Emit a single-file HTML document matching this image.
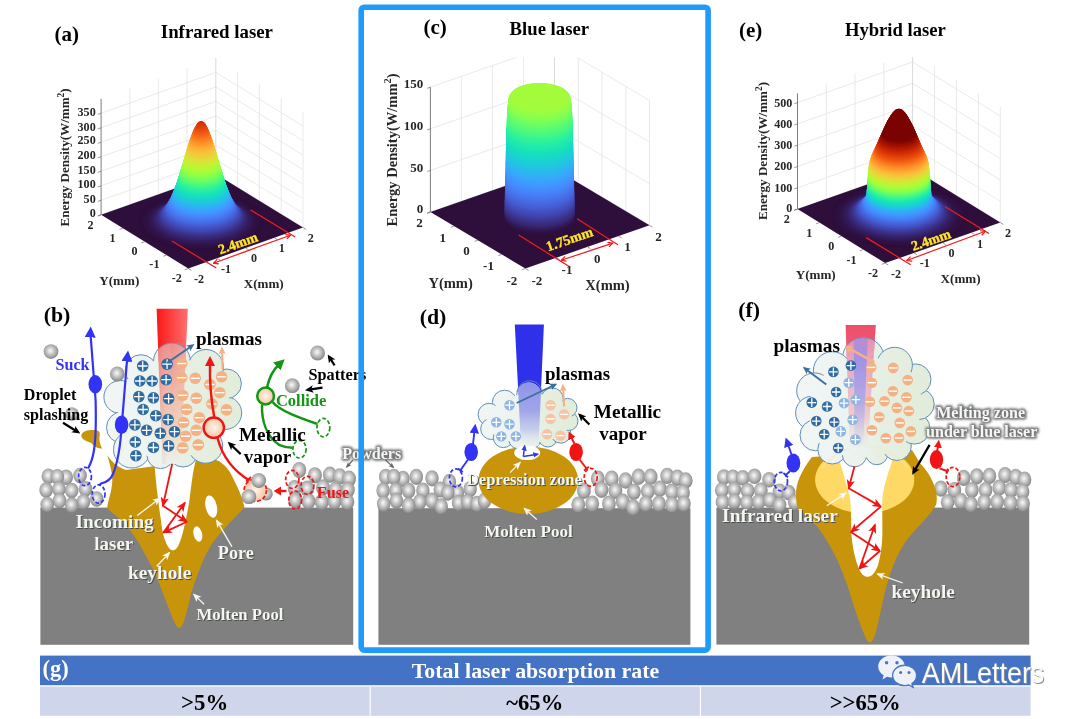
<!DOCTYPE html>
<html><head><meta charset="utf-8"><title>Laser absorption figure</title>
<style>html,body{margin:0;padding:0;background:#fff;}svg{display:block;font-family:"Liberation Serif",serif;will-change:transform;}</style>
</head><body>
<svg width="1080" height="719" viewBox="0 0 1080 719">
<defs>
<marker id="oar" viewBox="0 0 10 10" refX="9" refY="5" markerWidth="5" markerHeight="5" orient="auto-start-reverse"><path d="M1,1 L9,5 L1,9" fill="none" stroke="#ee1c1c" stroke-width="2"/></marker>
</defs>
<rect width="1080" height="719" fill="#fff"/>

<clipPath id="pacrop"><rect x="0" y="57.5" width="1080" height="300"/></clipPath><g clip-path="url(#pacrop)">
<line x1="101.1" y1="214.8" x2="215.8" y2="173.9" stroke="#e5e5e5" stroke-width="0.8"/>
<line x1="215.8" y1="173.9" x2="303" y2="227.6" stroke="#e5e5e5" stroke-width="0.8"/>
<line x1="101.1" y1="200.3" x2="215.8" y2="159.4" stroke="#e5e5e5" stroke-width="0.8"/>
<line x1="215.8" y1="159.4" x2="303" y2="213.1" stroke="#e5e5e5" stroke-width="0.8"/>
<line x1="101.1" y1="185.8" x2="215.8" y2="144.9" stroke="#e5e5e5" stroke-width="0.8"/>
<line x1="215.8" y1="144.9" x2="303" y2="198.6" stroke="#e5e5e5" stroke-width="0.8"/>
<line x1="101.1" y1="171.3" x2="215.8" y2="130.4" stroke="#e5e5e5" stroke-width="0.8"/>
<line x1="215.8" y1="130.4" x2="303" y2="184.1" stroke="#e5e5e5" stroke-width="0.8"/>
<line x1="101.1" y1="156.8" x2="215.8" y2="115.9" stroke="#e5e5e5" stroke-width="0.8"/>
<line x1="215.8" y1="115.9" x2="303" y2="169.6" stroke="#e5e5e5" stroke-width="0.8"/>
<line x1="101.1" y1="142.3" x2="215.8" y2="101.4" stroke="#e5e5e5" stroke-width="0.8"/>
<line x1="215.8" y1="101.4" x2="303" y2="155.1" stroke="#e5e5e5" stroke-width="0.8"/>
<line x1="101.1" y1="127.8" x2="215.8" y2="86.9" stroke="#e5e5e5" stroke-width="0.8"/>
<line x1="215.8" y1="86.9" x2="303" y2="140.6" stroke="#e5e5e5" stroke-width="0.8"/>
<line x1="101.1" y1="113.3" x2="215.8" y2="72.4" stroke="#e5e5e5" stroke-width="0.8"/>
<line x1="215.8" y1="72.4" x2="303" y2="126.1" stroke="#e5e5e5" stroke-width="0.8"/>
<line x1="129.8" y1="204.6" x2="129.8" y2="88.6" stroke="#e5e5e5" stroke-width="0.8"/>
<line x1="237.6" y1="187.3" x2="237.6" y2="71.3" stroke="#e5e5e5" stroke-width="0.8"/>
<line x1="158.4" y1="194.4" x2="158.4" y2="78.4" stroke="#e5e5e5" stroke-width="0.8"/>
<line x1="259.4" y1="200.7" x2="259.4" y2="84.7" stroke="#e5e5e5" stroke-width="0.8"/>
<line x1="187.1" y1="184.1" x2="187.1" y2="68.1" stroke="#e5e5e5" stroke-width="0.8"/>
<line x1="281.2" y1="214.2" x2="281.2" y2="98.2" stroke="#e5e5e5" stroke-width="0.8"/>
<line x1="303" y1="227.6" x2="303" y2="111.6" stroke="#e5e5e5" stroke-width="0.8"/>
<line x1="215.8" y1="173.9" x2="215.8" y2="57.9" stroke="#cfcfcf" stroke-width="0.8"/>
</g>
<line x1="101.1" y1="214.8" x2="101.1" y2="98.8" stroke="#6e6e6e" stroke-width="0.9"/>
<line x1="101.1" y1="214.8" x2="97.9" y2="215.9" stroke="#6e6e6e" stroke-width="0.7"/>
<line x1="101.1" y1="200.3" x2="97.9" y2="201.4" stroke="#6e6e6e" stroke-width="0.7"/>
<line x1="101.1" y1="185.8" x2="97.9" y2="186.9" stroke="#6e6e6e" stroke-width="0.7"/>
<line x1="101.1" y1="171.3" x2="97.9" y2="172.4" stroke="#6e6e6e" stroke-width="0.7"/>
<line x1="101.1" y1="156.8" x2="97.9" y2="157.9" stroke="#6e6e6e" stroke-width="0.7"/>
<line x1="101.1" y1="142.3" x2="97.9" y2="143.4" stroke="#6e6e6e" stroke-width="0.7"/>
<line x1="101.1" y1="127.8" x2="97.9" y2="128.9" stroke="#6e6e6e" stroke-width="0.7"/>
<line x1="101.1" y1="113.3" x2="97.9" y2="114.4" stroke="#6e6e6e" stroke-width="0.7"/>
<polygon points="101.1,214.8 188.3,268.5 303,227.6 215.8,173.9" fill="#2e0e3b"/>
<line x1="188.3" y1="268.5" x2="184.9" y2="269.7" stroke="#6e6e6e" stroke-width="0.7"/>
<line x1="188.3" y1="268.5" x2="191.4" y2="270.4" stroke="#6e6e6e" stroke-width="0.7"/>
<line x1="166.5" y1="255.1" x2="163.1" y2="256.3" stroke="#6e6e6e" stroke-width="0.7"/>
<line x1="217" y1="258.3" x2="220" y2="260.2" stroke="#6e6e6e" stroke-width="0.7"/>
<line x1="144.7" y1="241.7" x2="141.3" y2="242.9" stroke="#6e6e6e" stroke-width="0.7"/>
<line x1="245.7" y1="248.1" x2="248.7" y2="249.9" stroke="#6e6e6e" stroke-width="0.7"/>
<line x1="122.9" y1="228.2" x2="119.5" y2="229.4" stroke="#6e6e6e" stroke-width="0.7"/>
<line x1="274.3" y1="237.8" x2="277.4" y2="239.7" stroke="#6e6e6e" stroke-width="0.7"/>
<line x1="101.1" y1="214.8" x2="97.7" y2="216" stroke="#6e6e6e" stroke-width="0.7"/>
<line x1="303" y1="227.6" x2="306.1" y2="229.5" stroke="#6e6e6e" stroke-width="0.7"/>
<clipPath id="paclip"><polygon points="101.1,214.8 188.3,268.5 303,227.6 303,53.6 215.8,-0.1 101.1,40.8"/></clipPath>
<g clip-path="url(#paclip)"><g transform="translate(201.1,221.7) rotate(179.97)">
<ellipse cx="-0.0" cy="0.2" rx="62.8" ry="29.4" fill="#2e0e3b"/>
<ellipse cx="-0.0" cy="0.2" rx="62.0" ry="29.0" fill="#2e0e3b"/>
<ellipse cx="-0.0" cy="0.2" rx="61.2" ry="28.7" fill="#2e0e3b"/>
<ellipse cx="-0.0" cy="0.3" rx="60.4" ry="28.3" fill="#2e0e3b"/>
<ellipse cx="-0.0" cy="0.3" rx="59.6" ry="27.9" fill="#2e0e3b"/>
<ellipse cx="-0.0" cy="0.4" rx="58.8" ry="27.5" fill="#2e0e3b"/>
<ellipse cx="-0.0" cy="0.5" rx="58.0" ry="27.2" fill="#2f1142"/>
<ellipse cx="-0.0" cy="0.5" rx="57.2" ry="26.8" fill="#2f1142"/>
<ellipse cx="-0.0" cy="0.6" rx="56.4" ry="26.4" fill="#2f1142"/>
<ellipse cx="-0.0" cy="0.7" rx="55.6" ry="26.0" fill="#2f1142"/>
<ellipse cx="-0.0" cy="0.8" rx="54.8" ry="25.7" fill="#2f1142"/>
<ellipse cx="-0.0" cy="0.9" rx="54.0" ry="25.3" fill="#31144a"/>
<ellipse cx="-0.0" cy="1.1" rx="53.2" ry="24.9" fill="#31144a"/>
<ellipse cx="-0.0" cy="1.2" rx="52.4" ry="24.5" fill="#31144a"/>
<ellipse cx="-0.0" cy="1.4" rx="51.6" ry="24.2" fill="#321751"/>
<ellipse cx="-0.0" cy="1.6" rx="50.8" ry="23.8" fill="#321751"/>
<ellipse cx="-0.0" cy="1.8" rx="50.0" ry="23.4" fill="#331a58"/>
<ellipse cx="-0.0" cy="2.0" rx="49.2" ry="23.1" fill="#331a58"/>
<ellipse cx="-0.0" cy="2.3" rx="48.5" ry="22.7" fill="#341d5f"/>
<ellipse cx="-0.0" cy="2.6" rx="47.7" ry="22.4" fill="#341d5f"/>
<ellipse cx="-0.0" cy="2.9" rx="47.0" ry="22.0" fill="#352166"/>
<ellipse cx="-0.0" cy="3.3" rx="46.2" ry="21.7" fill="#37246c"/>
<ellipse cx="-0.0" cy="3.6" rx="45.5" ry="21.3" fill="#382673"/>
<ellipse cx="-0.0" cy="4.0" rx="44.8" ry="21.0" fill="#382773"/>
<ellipse cx="-0.0" cy="4.4" rx="44.1" ry="20.7" fill="#392a79"/>
<ellipse cx="-0.0" cy="4.9" rx="43.4" ry="20.3" fill="#3a2d7f"/>
<ellipse cx="-0.0" cy="5.3" rx="42.8" ry="20.0" fill="#3b3085"/>
<ellipse cx="-0.0" cy="5.8" rx="42.1" ry="19.7" fill="#3c3591"/>
<ellipse cx="-0.0" cy="6.4" rx="41.5" ry="19.4" fill="#3d3897"/>
<ellipse cx="-0.0" cy="6.9" rx="40.9" ry="19.1" fill="#3e3b9c"/>
<ellipse cx="-0.0" cy="7.4" rx="40.3" ry="18.9" fill="#3f3ea2"/>
<ellipse cx="-0.0" cy="8.0" rx="39.7" ry="18.6" fill="#4044ac"/>
<ellipse cx="-0.0" cy="8.6" rx="39.1" ry="18.3" fill="#4147b1"/>
<ellipse cx="-0.0" cy="9.2" rx="38.6" ry="18.1" fill="#424ab5"/>
<ellipse cx="-0.0" cy="9.9" rx="38.0" ry="17.8" fill="#4350be"/>
<ellipse cx="-0.0" cy="10.5" rx="37.5" ry="17.6" fill="#4352c3"/>
<ellipse cx="-0.0" cy="11.1" rx="37.0" ry="17.3" fill="#4455c7"/>
<ellipse cx="-0.0" cy="11.8" rx="36.5" ry="17.1" fill="#455bcf"/>
<ellipse cx="-0.0" cy="12.4" rx="36.1" ry="16.9" fill="#455ed3"/>
<ellipse cx="-0.0" cy="13.1" rx="35.6" ry="16.7" fill="#4663da"/>
<ellipse cx="-0.0" cy="13.8" rx="35.2" ry="16.5" fill="#4669e0"/>
<ellipse cx="-0.0" cy="14.5" rx="34.7" ry="16.3" fill="#466be3"/>
<ellipse cx="-0.0" cy="15.2" rx="34.3" ry="16.1" fill="#4771e9"/>
<ellipse cx="-0.0" cy="15.9" rx="33.9" ry="15.9" fill="#4773eb"/>
<ellipse cx="-0.0" cy="16.6" rx="33.5" ry="15.7" fill="#4778f0"/>
<ellipse cx="-0.0" cy="17.3" rx="33.1" ry="15.5" fill="#477bf2"/>
<ellipse cx="-0.0" cy="18.1" rx="32.7" ry="15.3" fill="#4680f6"/>
<ellipse cx="-0.0" cy="18.8" rx="32.3" ry="15.1" fill="#4685fa"/>
<ellipse cx="-0.0" cy="19.5" rx="31.9" ry="15.0" fill="#4687fb"/>
<ellipse cx="-0.0" cy="20.3" rx="31.6" ry="14.8" fill="#458cfd"/>
<ellipse cx="-0.0" cy="21.0" rx="31.2" ry="14.6" fill="#4391fe"/>
<ellipse cx="-0.0" cy="21.7" rx="30.9" ry="14.5" fill="#4294ff"/>
<ellipse cx="-0.0" cy="22.5" rx="30.5" ry="14.3" fill="#4099ff"/>
<ellipse cx="-0.0" cy="23.2" rx="30.2" ry="14.1" fill="#3d9efe"/>
<ellipse cx="-0.0" cy="24.0" rx="29.9" ry="14.0" fill="#3ba0fd"/>
<ellipse cx="-0.0" cy="24.7" rx="29.5" ry="13.8" fill="#38a5fb"/>
<ellipse cx="-0.0" cy="25.5" rx="29.2" ry="13.7" fill="#35abf8"/>
<ellipse cx="-0.0" cy="26.2" rx="28.9" ry="13.5" fill="#33adf7"/>
<ellipse cx="-0.0" cy="27.0" rx="28.6" ry="13.4" fill="#2fb2f4"/>
<ellipse cx="-0.0" cy="27.8" rx="28.3" ry="13.3" fill="#2cb7f0"/>
<ellipse cx="-0.0" cy="28.6" rx="28.0" ry="13.1" fill="#28bceb"/>
<ellipse cx="-0.0" cy="29.3" rx="27.7" ry="13.0" fill="#27bee9"/>
<ellipse cx="-0.0" cy="30.1" rx="27.4" ry="12.8" fill="#23c3e4"/>
<ellipse cx="-0.0" cy="30.8" rx="27.1" ry="12.7" fill="#20c7df"/>
<ellipse cx="-0.0" cy="31.6" rx="26.8" ry="12.6" fill="#1ecbda"/>
<ellipse cx="-0.0" cy="32.4" rx="26.5" ry="12.4" fill="#1ccdd8"/>
<ellipse cx="-0.0" cy="33.2" rx="26.3" ry="12.3" fill="#1ad2d2"/>
<ellipse cx="-0.0" cy="34.0" rx="26.0" ry="12.2" fill="#19d5cd"/>
<ellipse cx="-0.0" cy="34.7" rx="25.7" ry="12.0" fill="#18d9c8"/>
<ellipse cx="-0.0" cy="35.5" rx="25.4" ry="11.9" fill="#18dbc5"/>
<ellipse cx="-0.0" cy="36.3" rx="25.2" ry="11.8" fill="#18dec0"/>
<ellipse cx="-0.0" cy="37.1" rx="24.9" ry="11.7" fill="#19e2bb"/>
<ellipse cx="-0.0" cy="37.9" rx="24.6" ry="11.5" fill="#1ae4b6"/>
<ellipse cx="-0.0" cy="38.7" rx="24.4" ry="11.4" fill="#1ce6b4"/>
<ellipse cx="-0.0" cy="39.5" rx="24.1" ry="11.3" fill="#1fe9af"/>
<ellipse cx="-0.0" cy="40.2" rx="23.9" ry="11.2" fill="#22ebaa"/>
<ellipse cx="-0.0" cy="41.0" rx="23.6" ry="11.1" fill="#27eea4"/>
<ellipse cx="-0.0" cy="41.8" rx="23.3" ry="10.9" fill="#2aefa1"/>
<ellipse cx="-0.0" cy="42.7" rx="23.1" ry="10.8" fill="#2ff19b"/>
<ellipse cx="-0.0" cy="43.5" rx="22.8" ry="10.7" fill="#35f394"/>
<ellipse cx="-0.0" cy="44.2" rx="22.6" ry="10.6" fill="#3cf58e"/>
<ellipse cx="-0.0" cy="45.0" rx="22.4" ry="10.5" fill="#43f787"/>
<ellipse cx="-0.0" cy="45.8" rx="22.1" ry="10.4" fill="#46f884"/>
<ellipse cx="-0.0" cy="46.6" rx="21.9" ry="10.2" fill="#4ef97d"/>
<ellipse cx="-0.0" cy="47.3" rx="21.6" ry="10.1" fill="#55fa76"/>
<ellipse cx="-0.0" cy="48.1" rx="21.4" ry="10.0" fill="#5dfc6f"/>
<ellipse cx="-0.0" cy="48.9" rx="21.2" ry="9.9" fill="#61fc6c"/>
<ellipse cx="-0.0" cy="49.7" rx="20.9" ry="9.8" fill="#69fd66"/>
<ellipse cx="-0.0" cy="50.5" rx="20.7" ry="9.7" fill="#71fe5f"/>
<ellipse cx="-0.0" cy="51.3" rx="20.4" ry="9.6" fill="#79fe59"/>
<ellipse cx="-0.0" cy="52.1" rx="20.2" ry="9.5" fill="#80ff53"/>
<ellipse cx="-0.0" cy="53.0" rx="20.0" ry="9.3" fill="#84ff51"/>
<ellipse cx="-0.0" cy="53.8" rx="19.7" ry="9.2" fill="#8bff4b"/>
<ellipse cx="-0.0" cy="54.6" rx="19.5" ry="9.1" fill="#92ff47"/>
<ellipse cx="-0.0" cy="55.4" rx="19.2" ry="9.0" fill="#99fe42"/>
<ellipse cx="-0.0" cy="56.2" rx="19.0" ry="8.9" fill="#9ffd3f"/>
<ellipse cx="-0.0" cy="57.0" rx="18.8" ry="8.8" fill="#a4fc3c"/>
<ellipse cx="-0.0" cy="57.9" rx="18.5" ry="8.7" fill="#a7fc3a"/>
<ellipse cx="-0.0" cy="58.7" rx="18.3" ry="8.6" fill="#acfb38"/>
<ellipse cx="-0.0" cy="59.5" rx="18.0" ry="8.5" fill="#b1f936"/>
<ellipse cx="-0.0" cy="60.3" rx="17.8" ry="8.3" fill="#b7f735"/>
<ellipse cx="-0.0" cy="61.2" rx="17.6" ry="8.2" fill="#bcf534"/>
<ellipse cx="-0.0" cy="62.0" rx="17.3" ry="8.1" fill="#c1f334"/>
<ellipse cx="-0.0" cy="62.8" rx="17.1" ry="8.0" fill="#c6f034"/>
<ellipse cx="-0.0" cy="63.6" rx="16.8" ry="7.9" fill="#c8ef34"/>
<ellipse cx="-0.0" cy="64.5" rx="16.6" ry="7.8" fill="#cdec34"/>
<ellipse cx="-0.0" cy="65.3" rx="16.4" ry="7.7" fill="#d2e935"/>
<ellipse cx="-0.0" cy="66.1" rx="16.1" ry="7.6" fill="#d7e535"/>
<ellipse cx="-0.0" cy="66.9" rx="15.9" ry="7.4" fill="#dbe236"/>
<ellipse cx="-0.0" cy="67.8" rx="15.6" ry="7.3" fill="#dfdf37"/>
<ellipse cx="-0.0" cy="68.6" rx="15.4" ry="7.2" fill="#e1dd37"/>
<ellipse cx="-0.0" cy="69.4" rx="15.2" ry="7.1" fill="#e5d938"/>
<ellipse cx="-0.0" cy="70.2" rx="14.9" ry="7.0" fill="#e9d539"/>
<ellipse cx="-0.0" cy="71.0" rx="14.7" ry="6.9" fill="#ecd13a"/>
<ellipse cx="-0.0" cy="71.8" rx="14.4" ry="6.8" fill="#efcd3a"/>
<ellipse cx="-0.0" cy="72.6" rx="14.2" ry="6.7" fill="#f1cb3a"/>
<ellipse cx="-0.0" cy="73.4" rx="14.0" ry="6.5" fill="#f4c73a"/>
<ellipse cx="-0.0" cy="74.2" rx="13.7" ry="6.4" fill="#f6c33a"/>
<ellipse cx="-0.0" cy="74.9" rx="13.5" ry="6.3" fill="#f8be39"/>
<ellipse cx="-0.0" cy="75.7" rx="13.2" ry="6.2" fill="#f9bc39"/>
<ellipse cx="-0.0" cy="76.5" rx="13.0" ry="6.1" fill="#fbb838"/>
<ellipse cx="-0.0" cy="77.3" rx="12.8" ry="6.0" fill="#fcb336"/>
<ellipse cx="-0.0" cy="78.1" rx="12.5" ry="5.9" fill="#fdae35"/>
<ellipse cx="-0.0" cy="78.9" rx="12.2" ry="5.7" fill="#fea933"/>
<ellipse cx="-0.0" cy="79.7" rx="12.0" ry="5.6" fill="#fea732"/>
<ellipse cx="-0.0" cy="80.5" rx="11.7" ry="5.5" fill="#fea130"/>
<ellipse cx="-0.0" cy="81.3" rx="11.5" ry="5.4" fill="#fe9b2d"/>
<ellipse cx="-0.0" cy="82.0" rx="11.2" ry="5.3" fill="#fe962b"/>
<ellipse cx="-0.0" cy="82.8" rx="10.9" ry="5.1" fill="#fe932a"/>
<ellipse cx="-0.0" cy="83.6" rx="10.7" ry="5.0" fill="#fd8d27"/>
<ellipse cx="-0.0" cy="84.4" rx="10.4" ry="4.9" fill="#fc8725"/>
<ellipse cx="-0.0" cy="85.1" rx="10.1" ry="4.7" fill="#fb8122"/>
<ellipse cx="-0.0" cy="85.9" rx="9.8" ry="4.6" fill="#fb7e21"/>
<ellipse cx="-0.0" cy="86.7" rx="9.5" ry="4.5" fill="#f9781e"/>
<ellipse cx="-0.0" cy="87.5" rx="9.2" ry="4.3" fill="#f8721c"/>
<ellipse cx="-0.0" cy="88.2" rx="9.0" ry="4.2" fill="#f66c19"/>
<ellipse cx="-0.0" cy="89.0" rx="8.6" ry="4.0" fill="#f56918"/>
<ellipse cx="-0.0" cy="89.8" rx="8.3" ry="3.9" fill="#f36315"/>
<ellipse cx="-0.0" cy="90.5" rx="8.0" ry="3.8" fill="#f15d13"/>
<ellipse cx="-0.0" cy="91.3" rx="7.7" ry="3.6" fill="#f05b12"/>
<ellipse cx="-0.0" cy="92.0" rx="7.3" ry="3.4" fill="#ed5510"/>
<ellipse cx="-0.0" cy="92.8" rx="7.0" ry="3.3" fill="#eb500e"/>
<ellipse cx="-0.0" cy="93.5" rx="6.6" ry="3.1" fill="#ea4e0d"/>
<ellipse cx="-0.0" cy="94.2" rx="6.3" ry="2.9" fill="#e7490c"/>
<ellipse cx="-0.1" cy="94.9" rx="5.9" ry="2.8" fill="#e4450a"/>
<ellipse cx="-0.1" cy="95.7" rx="5.5" ry="2.6" fill="#e2430a"/>
<ellipse cx="-0.1" cy="96.3" rx="5.0" ry="2.4" fill="#df3f08"/>
<ellipse cx="-0.1" cy="97.0" rx="4.6" ry="2.1" fill="#dd3d08"/>
<ellipse cx="-0.1" cy="97.7" rx="4.1" ry="1.9" fill="#da3907"/>
<ellipse cx="-0.1" cy="98.3" rx="3.6" ry="1.7" fill="#d83706"/>
<ellipse cx="-0.1" cy="98.9" rx="3.0" ry="1.4" fill="#d43305"/>
<ellipse cx="-0.1" cy="99.4" rx="2.4" ry="1.1" fill="#d23105"/>
<ellipse cx="-0.1" cy="99.9" rx="1.7" ry="0.8" fill="#d02f05"/>
<ellipse cx="-0.1" cy="100.2" rx="1.0" ry="0.5" fill="#d02f05"/>
<ellipse cx="-0.1" cy="100.3" rx="0.2" ry="0.1" fill="#ce2d04"/>
</g></g>
<line x1="172" y1="241" x2="216.3" y2="268" stroke="#ee1c1c" stroke-width="1.3"/>
<line x1="250.6" y1="210" x2="295.2" y2="237" stroke="#ee1c1c" stroke-width="1.3"/>
<line x1="213.5" y1="263.2" x2="290.5" y2="235.2" stroke="#ee1c1c" stroke-width="1.2" marker-start="url(#oar)" marker-end="url(#oar)"/>
<text x="239.5" y="247.6" transform="rotate(-19.6 239.5 247.6)" font-family="Liberation Serif" font-weight="bold" font-size="14" fill="#ffe722" text-anchor="middle" stroke="#ffe722" stroke-width="0.35">2.4mm</text>
<g font-family="Liberation Serif" font-weight="bold" font-size="12.1" fill="#262626">
<text x="90.4" y="228.9" text-anchor="middle">2</text>
<text x="112.6" y="242.4" text-anchor="middle">1</text>
<text x="134.4" y="255.4" text-anchor="middle">0</text>
<text x="154.4" y="268.3" text-anchor="middle">-1</text>
<text x="176.7" y="282.1" text-anchor="middle">-2</text>
<text x="199" y="283.1" text-anchor="middle">-2</text>
<text x="226" y="272.6" text-anchor="middle">-1</text>
<text x="254" y="262.1" text-anchor="middle">0</text>
<text x="281.7" y="252.1" text-anchor="middle">1</text>
<text x="310.7" y="242.1" text-anchor="middle">2</text>
<text x="95.7" y="216.9" text-anchor="end">0</text>
<text x="95.7" y="202.6" text-anchor="end">50</text>
<text x="95.7" y="188" text-anchor="end">100</text>
<text x="95.7" y="173.7" text-anchor="end">150</text>
<text x="95.7" y="159.1" text-anchor="end">200</text>
<text x="95.7" y="144.4" text-anchor="end">250</text>
<text x="95.7" y="130.6" text-anchor="end">300</text>
<text x="95.7" y="115.5" text-anchor="end">350</text>
</g>
<g font-family="Liberation Serif" font-weight="bold" font-size="13.1" fill="#262626" text-anchor="middle">
<text x="119.3" y="284.5">Y(mm)</text>
<text x="263.7" y="287.8">X(mm)</text>
<text x="69.5" y="157.4" transform="rotate(-90 69.5 157.4)">Energy Density(W/mm<tspan dy="-5.2" font-size="9.4">2</tspan><tspan dy="5.2">)</tspan></text>
</g>
<clipPath id="pccrop"><rect x="0" y="57.5" width="1080" height="300"/></clipPath><g clip-path="url(#pccrop)">
<line x1="430.4" y1="212" x2="554.5" y2="168.8" stroke="#e5e5e5" stroke-width="0.8"/>
<line x1="554.5" y1="168.8" x2="649.5" y2="225.3" stroke="#e5e5e5" stroke-width="0.8"/>
<line x1="430.4" y1="170.4" x2="554.5" y2="127.2" stroke="#e5e5e5" stroke-width="0.8"/>
<line x1="554.5" y1="127.2" x2="649.5" y2="183.7" stroke="#e5e5e5" stroke-width="0.8"/>
<line x1="430.4" y1="128.8" x2="554.5" y2="85.6" stroke="#e5e5e5" stroke-width="0.8"/>
<line x1="554.5" y1="85.6" x2="649.5" y2="142.1" stroke="#e5e5e5" stroke-width="0.8"/>
<line x1="430.4" y1="87.2" x2="554.5" y2="44" stroke="#e5e5e5" stroke-width="0.8"/>
<line x1="554.5" y1="44" x2="649.5" y2="100.5" stroke="#e5e5e5" stroke-width="0.8"/>
<line x1="461.4" y1="201.2" x2="461.4" y2="76.4" stroke="#e5e5e5" stroke-width="0.8"/>
<line x1="578.3" y1="182.9" x2="578.3" y2="58.1" stroke="#e5e5e5" stroke-width="0.8"/>
<line x1="492.4" y1="190.4" x2="492.4" y2="65.6" stroke="#e5e5e5" stroke-width="0.8"/>
<line x1="602" y1="197.1" x2="602" y2="72.3" stroke="#e5e5e5" stroke-width="0.8"/>
<line x1="523.5" y1="179.6" x2="523.5" y2="54.8" stroke="#e5e5e5" stroke-width="0.8"/>
<line x1="625.8" y1="211.2" x2="625.8" y2="86.4" stroke="#e5e5e5" stroke-width="0.8"/>
<line x1="649.5" y1="225.3" x2="649.5" y2="100.5" stroke="#e5e5e5" stroke-width="0.8"/>
<line x1="554.5" y1="168.8" x2="554.5" y2="44" stroke="#cfcfcf" stroke-width="0.8"/>
</g>
<line x1="430.4" y1="212" x2="430.4" y2="87.2" stroke="#6e6e6e" stroke-width="0.9"/>
<line x1="430.4" y1="212" x2="427.2" y2="213.1" stroke="#6e6e6e" stroke-width="0.7"/>
<line x1="430.4" y1="170.4" x2="427.2" y2="171.5" stroke="#6e6e6e" stroke-width="0.7"/>
<line x1="430.4" y1="128.8" x2="427.2" y2="129.9" stroke="#6e6e6e" stroke-width="0.7"/>
<line x1="430.4" y1="87.2" x2="427.2" y2="88.3" stroke="#6e6e6e" stroke-width="0.7"/>
<polygon points="430.4,212 525.4,268.5 649.5,225.3 554.5,168.8" fill="#2e0e3b"/>
<line x1="525.4" y1="268.5" x2="522" y2="269.7" stroke="#6e6e6e" stroke-width="0.7"/>
<line x1="525.4" y1="268.5" x2="528.5" y2="270.3" stroke="#6e6e6e" stroke-width="0.7"/>
<line x1="501.6" y1="254.4" x2="498.3" y2="255.6" stroke="#6e6e6e" stroke-width="0.7"/>
<line x1="556.4" y1="257.7" x2="559.5" y2="259.5" stroke="#6e6e6e" stroke-width="0.7"/>
<line x1="477.9" y1="240.2" x2="474.5" y2="241.4" stroke="#6e6e6e" stroke-width="0.7"/>
<line x1="587.5" y1="246.9" x2="590.5" y2="248.7" stroke="#6e6e6e" stroke-width="0.7"/>
<line x1="454.1" y1="226.1" x2="450.8" y2="227.3" stroke="#6e6e6e" stroke-width="0.7"/>
<line x1="618.5" y1="236.1" x2="621.6" y2="237.9" stroke="#6e6e6e" stroke-width="0.7"/>
<line x1="430.4" y1="212" x2="427" y2="213.2" stroke="#6e6e6e" stroke-width="0.7"/>
<line x1="649.5" y1="225.3" x2="652.6" y2="227.1" stroke="#6e6e6e" stroke-width="0.7"/>
<clipPath id="pcclip"><polygon points="430.4,212 525.4,268.5 649.5,225.3 649.5,-65.9 554.5,-122.4 430.4,-79.2"/></clipPath>
<g clip-path="url(#pcclip)"><g transform="translate(539.6,218.7) rotate(-179.98)">
<ellipse cx="0.0" cy="1.0" rx="35.9" ry="16.3" fill="#2f1142"/>
<ellipse cx="0.0" cy="1.8" rx="35.7" ry="16.3" fill="#2f1142"/>
<ellipse cx="0.0" cy="2.7" rx="35.6" ry="16.2" fill="#31144a"/>
<ellipse cx="0.0" cy="3.6" rx="35.6" ry="16.2" fill="#321751"/>
<ellipse cx="0.0" cy="4.6" rx="35.5" ry="16.2" fill="#331a58"/>
<ellipse cx="0.0" cy="5.5" rx="35.4" ry="16.1" fill="#341d5f"/>
<ellipse cx="0.0" cy="6.5" rx="35.4" ry="16.1" fill="#352166"/>
<ellipse cx="0.0" cy="7.3" rx="35.3" ry="16.1" fill="#37246c"/>
<ellipse cx="0.0" cy="8.2" rx="35.3" ry="16.1" fill="#382773"/>
<ellipse cx="0.0" cy="9.1" rx="35.3" ry="16.0" fill="#392a79"/>
<ellipse cx="0.0" cy="10.2" rx="35.2" ry="16.0" fill="#3a2d7f"/>
<ellipse cx="0.0" cy="11.3" rx="35.2" ry="16.0" fill="#3b3085"/>
<ellipse cx="0.0" cy="12.4" rx="35.1" ry="16.0" fill="#3c338b"/>
<ellipse cx="0.0" cy="13.3" rx="35.1" ry="16.0" fill="#3c3691"/>
<ellipse cx="0.0" cy="14.1" rx="35.1" ry="16.0" fill="#3d3897"/>
<ellipse cx="0.0" cy="15.0" rx="35.1" ry="16.0" fill="#3e3b9c"/>
<ellipse cx="0.0" cy="15.9" rx="35.0" ry="15.9" fill="#3f3ea2"/>
<ellipse cx="0.0" cy="16.8" rx="35.0" ry="15.9" fill="#4041a7"/>
<ellipse cx="0.0" cy="17.7" rx="35.0" ry="15.9" fill="#4044ac"/>
<ellipse cx="0.0" cy="18.7" rx="34.9" ry="15.9" fill="#4147b1"/>
<ellipse cx="0.0" cy="19.7" rx="34.9" ry="15.9" fill="#424ab5"/>
<ellipse cx="0.0" cy="20.8" rx="34.9" ry="15.9" fill="#424dba"/>
<ellipse cx="0.0" cy="21.8" rx="34.9" ry="15.9" fill="#4350be"/>
<ellipse cx="0.0" cy="22.9" rx="34.8" ry="15.9" fill="#4352c3"/>
<ellipse cx="0.0" cy="24.0" rx="34.8" ry="15.8" fill="#4458cb"/>
<ellipse cx="0.0" cy="25.1" rx="34.8" ry="15.8" fill="#455bcf"/>
<ellipse cx="0.0" cy="26.2" rx="34.8" ry="15.8" fill="#455ed3"/>
<ellipse cx="0.0" cy="27.4" rx="34.7" ry="15.8" fill="#4560d6"/>
<ellipse cx="0.0" cy="28.6" rx="34.7" ry="15.8" fill="#4663da"/>
<ellipse cx="0.0" cy="29.8" rx="34.7" ry="15.8" fill="#4669e0"/>
<ellipse cx="0.0" cy="31.0" rx="34.6" ry="15.8" fill="#466be3"/>
<ellipse cx="0.0" cy="32.2" rx="34.6" ry="15.8" fill="#476ee6"/>
<ellipse cx="0.0" cy="33.4" rx="34.6" ry="15.7" fill="#4771e9"/>
<ellipse cx="0.0" cy="34.7" rx="34.6" ry="15.7" fill="#4776ee"/>
<ellipse cx="0.0" cy="35.9" rx="34.5" ry="15.7" fill="#4778f0"/>
<ellipse cx="0.0" cy="37.2" rx="34.5" ry="15.7" fill="#477bf2"/>
<ellipse cx="0.0" cy="38.4" rx="34.5" ry="15.7" fill="#4680f6"/>
<ellipse cx="0.0" cy="39.7" rx="34.5" ry="15.7" fill="#4682f8"/>
<ellipse cx="0.0" cy="41.0" rx="34.4" ry="15.7" fill="#4685fa"/>
<ellipse cx="0.0" cy="42.3" rx="34.4" ry="15.7" fill="#458afc"/>
<ellipse cx="0.0" cy="43.6" rx="34.4" ry="15.6" fill="#458cfd"/>
<ellipse cx="0.0" cy="44.9" rx="34.3" ry="15.6" fill="#448ffe"/>
<ellipse cx="0.0" cy="46.2" rx="34.3" ry="15.6" fill="#4294ff"/>
<ellipse cx="0.0" cy="47.5" rx="34.3" ry="15.6" fill="#4196ff"/>
<ellipse cx="0.0" cy="48.8" rx="34.3" ry="15.6" fill="#4099ff"/>
<ellipse cx="0.0" cy="50.1" rx="34.2" ry="15.6" fill="#3d9efe"/>
<ellipse cx="0.0" cy="51.4" rx="34.2" ry="15.6" fill="#3ba0fd"/>
<ellipse cx="0.0" cy="52.6" rx="34.2" ry="15.6" fill="#3aa3fc"/>
<ellipse cx="0.0" cy="53.9" rx="34.2" ry="15.5" fill="#37a8fa"/>
<ellipse cx="0.0" cy="55.2" rx="34.1" ry="15.5" fill="#35abf8"/>
<ellipse cx="0.0" cy="56.5" rx="34.1" ry="15.5" fill="#33adf7"/>
<ellipse cx="0.0" cy="57.7" rx="34.1" ry="15.5" fill="#2fb2f4"/>
<ellipse cx="0.0" cy="59.0" rx="34.0" ry="15.5" fill="#2eb4f2"/>
<ellipse cx="0.0" cy="60.2" rx="34.0" ry="15.5" fill="#2cb7f0"/>
<ellipse cx="0.0" cy="61.5" rx="34.0" ry="15.5" fill="#28bceb"/>
<ellipse cx="0.0" cy="62.7" rx="34.0" ry="15.5" fill="#27bee9"/>
<ellipse cx="0.0" cy="63.9" rx="33.9" ry="15.4" fill="#25c0e7"/>
<ellipse cx="0.0" cy="65.1" rx="33.9" ry="15.4" fill="#23c3e4"/>
<ellipse cx="0.0" cy="66.3" rx="33.9" ry="15.4" fill="#20c7df"/>
<ellipse cx="0.0" cy="67.5" rx="33.9" ry="15.4" fill="#1fc9dd"/>
<ellipse cx="0.0" cy="68.7" rx="33.8" ry="15.4" fill="#1ecbda"/>
<ellipse cx="0.0" cy="69.8" rx="33.8" ry="15.4" fill="#1ccdd8"/>
<ellipse cx="0.0" cy="71.0" rx="33.8" ry="15.4" fill="#1ad2d2"/>
<ellipse cx="0.0" cy="72.1" rx="33.7" ry="15.4" fill="#1ad4d0"/>
<ellipse cx="0.0" cy="73.2" rx="33.7" ry="15.3" fill="#19d5cd"/>
<ellipse cx="0.0" cy="74.3" rx="33.7" ry="15.3" fill="#18d7ca"/>
<ellipse cx="0.0" cy="75.4" rx="33.7" ry="15.3" fill="#18d9c8"/>
<ellipse cx="0.0" cy="76.5" rx="33.6" ry="15.3" fill="#18dbc5"/>
<ellipse cx="0.0" cy="77.5" rx="33.6" ry="15.3" fill="#18ddc2"/>
<ellipse cx="0.0" cy="78.6" rx="33.6" ry="15.3" fill="#18dec0"/>
<ellipse cx="0.0" cy="79.6" rx="33.6" ry="15.3" fill="#18e0bd"/>
<ellipse cx="0.0" cy="80.6" rx="33.5" ry="15.3" fill="#19e3b9"/>
<ellipse cx="0.0" cy="81.6" rx="33.5" ry="15.2" fill="#1ae4b6"/>
<ellipse cx="0.0" cy="82.5" rx="33.5" ry="15.2" fill="#1ce6b4"/>
<ellipse cx="0.0" cy="83.5" rx="33.4" ry="15.2" fill="#1de7b2"/>
<ellipse cx="0.0" cy="84.4" rx="33.4" ry="15.2" fill="#1fe9af"/>
<ellipse cx="0.0" cy="85.4" rx="33.4" ry="15.2" fill="#20eaac"/>
<ellipse cx="0.0" cy="86.3" rx="33.4" ry="15.2" fill="#20eaac"/>
<ellipse cx="0.0" cy="87.2" rx="33.3" ry="15.2" fill="#22ebaa"/>
<ellipse cx="0.0" cy="88.0" rx="33.3" ry="15.2" fill="#25eca7"/>
<ellipse cx="0.0" cy="88.9" rx="33.3" ry="15.1" fill="#27eea4"/>
<ellipse cx="0.0" cy="89.7" rx="33.3" ry="15.1" fill="#2aefa1"/>
<ellipse cx="0.0" cy="90.6" rx="33.2" ry="15.1" fill="#2cf09e"/>
<ellipse cx="0.0" cy="91.4" rx="33.2" ry="15.1" fill="#2ff19b"/>
<ellipse cx="0.0" cy="92.6" rx="33.2" ry="15.1" fill="#32f298"/>
<ellipse cx="0.0" cy="93.7" rx="33.1" ry="15.1" fill="#35f394"/>
<ellipse cx="0.0" cy="94.8" rx="33.1" ry="15.1" fill="#38f491"/>
<ellipse cx="0.0" cy="95.9" rx="33.0" ry="15.0" fill="#3ff68a"/>
<ellipse cx="0.0" cy="96.9" rx="33.0" ry="15.0" fill="#43f787"/>
<ellipse cx="0.0" cy="97.9" rx="33.0" ry="15.0" fill="#46f884"/>
<ellipse cx="0.0" cy="98.9" rx="32.9" ry="15.0" fill="#4af880"/>
<ellipse cx="0.0" cy="99.9" rx="32.9" ry="15.0" fill="#4ef97d"/>
<ellipse cx="0.0" cy="100.8" rx="32.8" ry="14.9" fill="#52fa7a"/>
<ellipse cx="0.0" cy="101.7" rx="32.8" ry="14.9" fill="#55fa76"/>
<ellipse cx="0.0" cy="102.5" rx="32.7" ry="14.9" fill="#55fa76"/>
<ellipse cx="0.0" cy="103.3" rx="32.7" ry="14.9" fill="#59fb73"/>
<ellipse cx="0.0" cy="104.4" rx="32.7" ry="14.9" fill="#5dfc6f"/>
<ellipse cx="0.0" cy="105.4" rx="32.6" ry="14.8" fill="#61fc6c"/>
<ellipse cx="0.0" cy="106.3" rx="32.5" ry="14.8" fill="#65fd69"/>
<ellipse cx="0.0" cy="107.2" rx="32.5" ry="14.8" fill="#69fd66"/>
<ellipse cx="0.0" cy="108.1" rx="32.4" ry="14.8" fill="#6dfe62"/>
<ellipse cx="0.0" cy="108.9" rx="32.4" ry="14.7" fill="#71fe5f"/>
<ellipse cx="0.0" cy="109.9" rx="32.3" ry="14.7" fill="#75fe5c"/>
<ellipse cx="0.0" cy="110.8" rx="32.2" ry="14.7" fill="#79fe59"/>
<ellipse cx="0.0" cy="111.6" rx="32.2" ry="14.6" fill="#7dff56"/>
<ellipse cx="0.0" cy="112.6" rx="32.1" ry="14.6" fill="#80ff53"/>
<ellipse cx="0.0" cy="113.4" rx="32.0" ry="14.6" fill="#84ff51"/>
<ellipse cx="0.0" cy="114.2" rx="31.9" ry="14.5" fill="#88ff4e"/>
<ellipse cx="0.0" cy="115.1" rx="31.8" ry="14.5" fill="#8bff4b"/>
<ellipse cx="0.0" cy="115.9" rx="31.7" ry="14.4" fill="#8bff4b"/>
<ellipse cx="0.0" cy="116.8" rx="31.6" ry="14.4" fill="#8fff49"/>
<ellipse cx="0.0" cy="117.7" rx="31.5" ry="14.3" fill="#92ff47"/>
<ellipse cx="0.0" cy="118.5" rx="31.3" ry="14.2" fill="#96fe44"/>
<ellipse cx="0.0" cy="119.3" rx="31.1" ry="14.2" fill="#99fe42"/>
<ellipse cx="0.0" cy="120.0" rx="30.9" ry="14.1" fill="#9cfe40"/>
<ellipse cx="0.0" cy="120.8" rx="30.6" ry="13.9" fill="#9ffd3f"/>
<ellipse cx="0.0" cy="121.5" rx="30.2" ry="13.8" fill="#9ffd3f"/>
<ellipse cx="0.0" cy="122.1" rx="29.7" ry="13.5" fill="#a1fd3d"/>
<ellipse cx="0.0" cy="122.5" rx="29.0" ry="13.2" fill="#a1fd3d"/>
<ellipse cx="0.0" cy="122.7" rx="28.2" ry="12.8" fill="#a1fd3d"/>
<ellipse cx="0.0" cy="122.8" rx="27.4" ry="12.5" fill="#a4fc3c"/>
<ellipse cx="0.0" cy="122.8" rx="26.6" ry="12.1" fill="#a4fc3c"/>
<ellipse cx="0.0" cy="122.8" rx="25.8" ry="11.7" fill="#a4fc3c"/>
<ellipse cx="0.0" cy="122.8" rx="25.0" ry="11.4" fill="#a4fc3c"/>
<ellipse cx="0.0" cy="122.8" rx="24.2" ry="11.0" fill="#a4fc3c"/>
<ellipse cx="0.0" cy="122.8" rx="23.4" ry="10.6" fill="#a4fc3c"/>
<ellipse cx="0.0" cy="122.8" rx="22.6" ry="10.3" fill="#a4fc3c"/>
<ellipse cx="0.0" cy="122.8" rx="21.8" ry="9.9" fill="#a4fc3c"/>
<ellipse cx="0.0" cy="122.8" rx="21.0" ry="9.5" fill="#a4fc3c"/>
<ellipse cx="0.0" cy="122.8" rx="20.1" ry="9.2" fill="#a4fc3c"/>
<ellipse cx="0.0" cy="122.8" rx="19.3" ry="8.8" fill="#a4fc3c"/>
<ellipse cx="0.0" cy="122.8" rx="18.5" ry="8.4" fill="#a4fc3c"/>
<ellipse cx="0.0" cy="122.8" rx="17.7" ry="8.1" fill="#a4fc3c"/>
<ellipse cx="0.0" cy="122.8" rx="16.9" ry="7.7" fill="#a4fc3c"/>
<ellipse cx="0.0" cy="122.8" rx="16.1" ry="7.3" fill="#a4fc3c"/>
<ellipse cx="0.0" cy="122.8" rx="15.3" ry="7.0" fill="#a4fc3c"/>
<ellipse cx="0.0" cy="122.8" rx="14.5" ry="6.6" fill="#a4fc3c"/>
<ellipse cx="0.0" cy="122.8" rx="13.7" ry="6.2" fill="#a4fc3c"/>
<ellipse cx="0.0" cy="122.8" rx="12.9" ry="5.9" fill="#a4fc3c"/>
<ellipse cx="0.0" cy="122.8" rx="12.1" ry="5.5" fill="#a4fc3c"/>
<ellipse cx="0.0" cy="122.8" rx="11.3" ry="5.1" fill="#a4fc3c"/>
<ellipse cx="0.0" cy="122.8" rx="10.5" ry="4.8" fill="#a4fc3c"/>
<ellipse cx="0.0" cy="122.8" rx="9.7" ry="4.4" fill="#a4fc3c"/>
<ellipse cx="0.0" cy="122.8" rx="8.9" ry="4.0" fill="#a4fc3c"/>
<ellipse cx="0.0" cy="122.8" rx="8.0" ry="3.7" fill="#a4fc3c"/>
<ellipse cx="0.0" cy="122.8" rx="7.2" ry="3.3" fill="#a4fc3c"/>
<ellipse cx="0.0" cy="122.8" rx="6.4" ry="2.9" fill="#a4fc3c"/>
<ellipse cx="0.0" cy="122.8" rx="5.6" ry="2.6" fill="#a4fc3c"/>
<ellipse cx="0.0" cy="122.8" rx="4.8" ry="2.2" fill="#a4fc3c"/>
<ellipse cx="0.0" cy="122.8" rx="4.0" ry="1.8" fill="#a4fc3c"/>
<ellipse cx="0.0" cy="122.8" rx="3.2" ry="1.5" fill="#a4fc3c"/>
<ellipse cx="0.0" cy="122.8" rx="2.4" ry="1.1" fill="#a4fc3c"/>
<ellipse cx="0.0" cy="122.8" rx="1.6" ry="0.7" fill="#a4fc3c"/>
<ellipse cx="0.0" cy="122.8" rx="0.8" ry="0.4" fill="#a4fc3c"/>
</g></g>
<line x1="518.7" y1="235" x2="569.6" y2="266.8" stroke="#ee1c1c" stroke-width="1.3"/>
<line x1="577.1" y1="218.7" x2="617.9" y2="244.7" stroke="#ee1c1c" stroke-width="1.3"/>
<line x1="561.2" y1="260.3" x2="612.8" y2="243.1" stroke="#ee1c1c" stroke-width="1.2" marker-start="url(#oar)" marker-end="url(#oar)"/>
<text x="571" y="243.5" transform="rotate(-19.2 571 243.5)" font-family="Liberation Serif" font-weight="bold" font-size="14.2" fill="#ffe722" text-anchor="middle" stroke="#ffe722" stroke-width="0.35">1.75mm</text>
<g font-family="Liberation Serif" font-weight="bold" font-size="13" fill="#262626">
<text x="419.5" y="227.4" text-anchor="middle">2</text>
<text x="442.8" y="241.6" text-anchor="middle">1</text>
<text x="466.5" y="255.4" text-anchor="middle">0</text>
<text x="488.5" y="269.6" text-anchor="middle">-1</text>
<text x="511.8" y="284.7" text-anchor="middle">-2</text>
<text x="536.8" y="284.7" text-anchor="middle">-2</text>
<text x="567" y="273.9" text-anchor="middle">-1</text>
<text x="597.2" y="263.1" text-anchor="middle">0</text>
<text x="627.4" y="251.4" text-anchor="middle">1</text>
<text x="658.4" y="240.7" text-anchor="middle">2</text>
<text x="423.2" y="213.4" text-anchor="end">0</text>
<text x="423.2" y="171.6" text-anchor="end">50</text>
<text x="423.2" y="130.1" text-anchor="end">100</text>
<text x="423.2" y="88.3" text-anchor="end">150</text>
</g>
<g font-family="Liberation Serif" font-weight="bold" font-size="14.5" fill="#262626" text-anchor="middle">
<text x="450.6" y="288.2">Y(mm)</text>
<text x="607.5" y="290.4">X(mm)</text>
<text x="397.2" y="150" transform="rotate(-90 397.2 150)">Energy Density(W/mm<tspan dy="-5.8" font-size="10.4">2</tspan><tspan dy="5.8">)</tspan></text>
</g>
<clipPath id="pecrop"><rect x="0" y="57.5" width="1080" height="300"/></clipPath><g clip-path="url(#pecrop)">
<line x1="797.5" y1="209.1" x2="912.6" y2="168.5" stroke="#e5e5e5" stroke-width="0.8"/>
<line x1="912.6" y1="168.5" x2="1000.3" y2="222.5" stroke="#e5e5e5" stroke-width="0.8"/>
<line x1="797.5" y1="187.8" x2="912.6" y2="147.2" stroke="#e5e5e5" stroke-width="0.8"/>
<line x1="912.6" y1="147.2" x2="1000.3" y2="201.2" stroke="#e5e5e5" stroke-width="0.8"/>
<line x1="797.5" y1="166.5" x2="912.6" y2="125.9" stroke="#e5e5e5" stroke-width="0.8"/>
<line x1="912.6" y1="125.9" x2="1000.3" y2="179.9" stroke="#e5e5e5" stroke-width="0.8"/>
<line x1="797.5" y1="145.2" x2="912.6" y2="104.6" stroke="#e5e5e5" stroke-width="0.8"/>
<line x1="912.6" y1="104.6" x2="1000.3" y2="158.6" stroke="#e5e5e5" stroke-width="0.8"/>
<line x1="797.5" y1="123.9" x2="912.6" y2="83.3" stroke="#e5e5e5" stroke-width="0.8"/>
<line x1="912.6" y1="83.3" x2="1000.3" y2="137.3" stroke="#e5e5e5" stroke-width="0.8"/>
<line x1="797.5" y1="102.6" x2="912.6" y2="62" stroke="#e5e5e5" stroke-width="0.8"/>
<line x1="912.6" y1="62" x2="1000.3" y2="116" stroke="#e5e5e5" stroke-width="0.8"/>
<line x1="826.3" y1="198.9" x2="826.3" y2="83.3" stroke="#e5e5e5" stroke-width="0.8"/>
<line x1="934.5" y1="182" x2="934.5" y2="66.3" stroke="#e5e5e5" stroke-width="0.8"/>
<line x1="855" y1="188.8" x2="855" y2="73.1" stroke="#e5e5e5" stroke-width="0.8"/>
<line x1="956.4" y1="195.5" x2="956.4" y2="79.8" stroke="#e5e5e5" stroke-width="0.8"/>
<line x1="883.8" y1="178.6" x2="883.8" y2="63" stroke="#e5e5e5" stroke-width="0.8"/>
<line x1="978.4" y1="209" x2="978.4" y2="93.3" stroke="#e5e5e5" stroke-width="0.8"/>
<line x1="1000.3" y1="222.5" x2="1000.3" y2="106.8" stroke="#e5e5e5" stroke-width="0.8"/>
<line x1="912.6" y1="168.5" x2="912.6" y2="52.8" stroke="#cfcfcf" stroke-width="0.8"/>
</g>
<line x1="797.5" y1="209.1" x2="797.5" y2="93.4" stroke="#6e6e6e" stroke-width="0.9"/>
<line x1="797.5" y1="209.1" x2="794.3" y2="210.2" stroke="#6e6e6e" stroke-width="0.7"/>
<line x1="797.5" y1="187.8" x2="794.3" y2="188.9" stroke="#6e6e6e" stroke-width="0.7"/>
<line x1="797.5" y1="166.5" x2="794.3" y2="167.6" stroke="#6e6e6e" stroke-width="0.7"/>
<line x1="797.5" y1="145.2" x2="794.3" y2="146.3" stroke="#6e6e6e" stroke-width="0.7"/>
<line x1="797.5" y1="123.9" x2="794.3" y2="125" stroke="#6e6e6e" stroke-width="0.7"/>
<line x1="797.5" y1="102.6" x2="794.3" y2="103.7" stroke="#6e6e6e" stroke-width="0.7"/>
<polygon points="797.5,209.1 885.2,263.1 1000.3,222.5 912.6,168.5" fill="#2e0e3b"/>
<line x1="885.2" y1="263.1" x2="881.8" y2="264.3" stroke="#6e6e6e" stroke-width="0.7"/>
<line x1="885.2" y1="263.1" x2="888.3" y2="265" stroke="#6e6e6e" stroke-width="0.7"/>
<line x1="863.3" y1="249.6" x2="859.9" y2="250.8" stroke="#6e6e6e" stroke-width="0.7"/>
<line x1="914" y1="253" x2="917" y2="254.8" stroke="#6e6e6e" stroke-width="0.7"/>
<line x1="841.4" y1="236.1" x2="838" y2="237.3" stroke="#6e6e6e" stroke-width="0.7"/>
<line x1="942.8" y1="242.8" x2="945.8" y2="244.7" stroke="#6e6e6e" stroke-width="0.7"/>
<line x1="819.4" y1="222.6" x2="816" y2="223.8" stroke="#6e6e6e" stroke-width="0.7"/>
<line x1="971.5" y1="232.7" x2="974.6" y2="234.5" stroke="#6e6e6e" stroke-width="0.7"/>
<line x1="797.5" y1="209.1" x2="794.1" y2="210.3" stroke="#6e6e6e" stroke-width="0.7"/>
<line x1="1000.3" y1="222.5" x2="1003.4" y2="224.4" stroke="#6e6e6e" stroke-width="0.7"/>
<clipPath id="peclip"><polygon points="797.5,209.1 885.2,263.1 1000.3,222.5 1000.3,64.2 912.6,10.2 797.5,50.8"/></clipPath>
<g clip-path="url(#peclip)"><g transform="translate(898.9,215.8) rotate(-179.78)">
<ellipse cx="0.0" cy="0.1" rx="68.7" ry="32.1" fill="#2e0e3b"/>
<ellipse cx="0.0" cy="0.2" rx="67.9" ry="31.7" fill="#2e0e3b"/>
<ellipse cx="0.0" cy="0.2" rx="67.1" ry="31.3" fill="#2e0e3b"/>
<ellipse cx="0.0" cy="0.2" rx="66.3" ry="31.0" fill="#2e0e3b"/>
<ellipse cx="0.0" cy="0.2" rx="65.5" ry="30.6" fill="#2e0e3b"/>
<ellipse cx="0.0" cy="0.3" rx="64.7" ry="30.2" fill="#2e0e3b"/>
<ellipse cx="0.0" cy="0.3" rx="63.9" ry="29.8" fill="#2f1142"/>
<ellipse cx="0.0" cy="0.4" rx="63.1" ry="29.5" fill="#2f1142"/>
<ellipse cx="0.0" cy="0.4" rx="62.3" ry="29.1" fill="#2f1142"/>
<ellipse cx="0.0" cy="0.5" rx="61.5" ry="28.7" fill="#2f1142"/>
<ellipse cx="0.0" cy="0.5" rx="60.7" ry="28.3" fill="#2f1142"/>
<ellipse cx="0.0" cy="0.6" rx="59.8" ry="27.9" fill="#2f1142"/>
<ellipse cx="0.0" cy="0.7" rx="59.0" ry="27.6" fill="#31144a"/>
<ellipse cx="0.0" cy="0.8" rx="58.2" ry="27.2" fill="#31144a"/>
<ellipse cx="0.0" cy="0.9" rx="57.4" ry="26.8" fill="#31144a"/>
<ellipse cx="0.0" cy="1.0" rx="56.6" ry="26.4" fill="#321751"/>
<ellipse cx="0.0" cy="1.2" rx="55.8" ry="26.1" fill="#321751"/>
<ellipse cx="0.0" cy="1.3" rx="55.0" ry="25.7" fill="#331a58"/>
<ellipse cx="0.0" cy="1.5" rx="54.2" ry="25.3" fill="#331a58"/>
<ellipse cx="0.0" cy="1.6" rx="53.5" ry="25.0" fill="#341d5f"/>
<ellipse cx="0.0" cy="1.8" rx="52.7" ry="24.6" fill="#341d5f"/>
<ellipse cx="0.0" cy="2.0" rx="51.9" ry="24.2" fill="#352066"/>
<ellipse cx="0.0" cy="2.3" rx="51.1" ry="23.9" fill="#36236c"/>
<ellipse cx="0.0" cy="2.5" rx="50.3" ry="23.5" fill="#37246c"/>
<ellipse cx="0.0" cy="2.8" rx="49.6" ry="23.2" fill="#382773"/>
<ellipse cx="0.0" cy="3.1" rx="48.8" ry="22.8" fill="#392a79"/>
<ellipse cx="0.0" cy="3.4" rx="48.1" ry="22.5" fill="#3a2d7f"/>
<ellipse cx="0.0" cy="3.7" rx="47.4" ry="22.1" fill="#3b3085"/>
<ellipse cx="0.0" cy="4.1" rx="46.6" ry="21.8" fill="#3c338b"/>
<ellipse cx="0.0" cy="4.5" rx="45.9" ry="21.4" fill="#3c3691"/>
<ellipse cx="0.0" cy="4.9" rx="45.2" ry="21.1" fill="#3e3b9c"/>
<ellipse cx="0.0" cy="5.3" rx="44.5" ry="20.8" fill="#3f3ea2"/>
<ellipse cx="0.0" cy="5.7" rx="43.8" ry="20.5" fill="#4041a7"/>
<ellipse cx="0.0" cy="6.2" rx="43.2" ry="20.1" fill="#4147b1"/>
<ellipse cx="0.0" cy="6.7" rx="42.5" ry="19.8" fill="#424ab5"/>
<ellipse cx="0.0" cy="7.2" rx="41.9" ry="19.5" fill="#4350be"/>
<ellipse cx="0.0" cy="7.7" rx="41.3" ry="19.3" fill="#4455c7"/>
<ellipse cx="0.0" cy="8.2" rx="40.6" ry="19.0" fill="#4458cb"/>
<ellipse cx="0.0" cy="8.8" rx="40.0" ry="18.7" fill="#455ed3"/>
<ellipse cx="0.0" cy="9.3" rx="39.4" ry="18.4" fill="#4663da"/>
<ellipse cx="0.0" cy="9.9" rx="38.9" ry="18.2" fill="#4666dd"/>
<ellipse cx="0.0" cy="10.5" rx="38.3" ry="17.9" fill="#466be3"/>
<ellipse cx="0.0" cy="11.1" rx="37.8" ry="17.6" fill="#4771e9"/>
<ellipse cx="0.0" cy="11.7" rx="37.2" ry="17.4" fill="#4776ee"/>
<ellipse cx="0.0" cy="12.3" rx="36.7" ry="17.1" fill="#477bf2"/>
<ellipse cx="0.0" cy="13.0" rx="36.2" ry="16.9" fill="#4680f6"/>
<ellipse cx="0.1" cy="13.6" rx="35.7" ry="16.7" fill="#4685fa"/>
<ellipse cx="0.1" cy="14.3" rx="35.2" ry="16.4" fill="#458afc"/>
<ellipse cx="0.1" cy="14.9" rx="34.7" ry="16.2" fill="#448ffe"/>
<ellipse cx="0.1" cy="15.6" rx="34.2" ry="16.0" fill="#4294ff"/>
<ellipse cx="0.1" cy="16.3" rx="33.8" ry="15.8" fill="#4099ff"/>
<ellipse cx="0.1" cy="17.0" rx="33.4" ry="15.6" fill="#3ba0fd"/>
<ellipse cx="0.1" cy="17.8" rx="33.1" ry="15.4" fill="#38a5fb"/>
<ellipse cx="0.1" cy="18.6" rx="32.9" ry="15.4" fill="#33adf7"/>
<ellipse cx="0.1" cy="19.5" rx="32.8" ry="15.3" fill="#2fb2f4"/>
<ellipse cx="0.1" cy="20.4" rx="32.6" ry="15.2" fill="#2ab9ee"/>
<ellipse cx="0.1" cy="21.4" rx="32.5" ry="15.2" fill="#25c0e7"/>
<ellipse cx="0.1" cy="22.3" rx="32.5" ry="15.2" fill="#20c7df"/>
<ellipse cx="0.1" cy="23.2" rx="32.4" ry="15.1" fill="#1ccdd8"/>
<ellipse cx="0.1" cy="24.1" rx="32.3" ry="15.1" fill="#1ad4d0"/>
<ellipse cx="0.1" cy="24.9" rx="32.2" ry="15.0" fill="#18d7ca"/>
<ellipse cx="0.1" cy="25.8" rx="32.2" ry="15.0" fill="#18ddc2"/>
<ellipse cx="0.1" cy="26.8" rx="32.1" ry="15.0" fill="#19e2bb"/>
<ellipse cx="0.1" cy="27.8" rx="32.0" ry="14.9" fill="#1ce6b4"/>
<ellipse cx="0.1" cy="28.8" rx="32.0" ry="14.9" fill="#20eaac"/>
<ellipse cx="0.1" cy="29.8" rx="31.9" ry="14.9" fill="#27eea4"/>
<ellipse cx="0.1" cy="30.8" rx="31.8" ry="14.9" fill="#32f298"/>
<ellipse cx="0.1" cy="31.8" rx="31.7" ry="14.8" fill="#3cf58e"/>
<ellipse cx="0.1" cy="32.9" rx="31.7" ry="14.8" fill="#46f884"/>
<ellipse cx="0.1" cy="33.9" rx="31.6" ry="14.8" fill="#52fa7a"/>
<ellipse cx="0.1" cy="34.9" rx="31.5" ry="14.7" fill="#5dfc6f"/>
<ellipse cx="0.1" cy="35.9" rx="31.5" ry="14.7" fill="#6dfe62"/>
<ellipse cx="0.1" cy="36.9" rx="31.4" ry="14.7" fill="#79fe59"/>
<ellipse cx="0.1" cy="37.8" rx="31.3" ry="14.6" fill="#84ff51"/>
<ellipse cx="0.1" cy="38.7" rx="31.3" ry="14.6" fill="#8bff4b"/>
<ellipse cx="0.2" cy="39.6" rx="31.2" ry="14.6" fill="#96fe44"/>
<ellipse cx="0.2" cy="40.5" rx="31.1" ry="14.5" fill="#9ffd3f"/>
<ellipse cx="0.2" cy="41.4" rx="31.1" ry="14.5" fill="#a7fc3a"/>
<ellipse cx="0.2" cy="42.2" rx="31.0" ry="14.5" fill="#acfb38"/>
<ellipse cx="0.2" cy="43.1" rx="30.9" ry="14.4" fill="#b4f836"/>
<ellipse cx="0.2" cy="44.1" rx="30.8" ry="14.4" fill="#bcf534"/>
<ellipse cx="0.2" cy="44.9" rx="30.7" ry="14.3" fill="#c3f134"/>
<ellipse cx="0.2" cy="45.8" rx="30.6" ry="14.3" fill="#c8ef34"/>
<ellipse cx="0.2" cy="46.7" rx="30.5" ry="14.3" fill="#d0ea34"/>
<ellipse cx="0.2" cy="47.6" rx="30.4" ry="14.2" fill="#d7e535"/>
<ellipse cx="0.2" cy="48.4" rx="30.3" ry="14.2" fill="#dde037"/>
<ellipse cx="0.2" cy="49.3" rx="30.2" ry="14.1" fill="#e1dd37"/>
<ellipse cx="0.2" cy="50.1" rx="30.1" ry="14.1" fill="#e7d739"/>
<ellipse cx="0.2" cy="50.9" rx="30.0" ry="14.0" fill="#ebd339"/>
<ellipse cx="0.2" cy="51.8" rx="29.8" ry="13.9" fill="#efcd3a"/>
<ellipse cx="0.2" cy="52.6" rx="29.6" ry="13.8" fill="#f4c73a"/>
<ellipse cx="0.2" cy="53.4" rx="29.4" ry="13.7" fill="#f6c33a"/>
<ellipse cx="0.2" cy="54.2" rx="29.2" ry="13.6" fill="#f9bc39"/>
<ellipse cx="0.2" cy="55.0" rx="29.0" ry="13.5" fill="#fbb838"/>
<ellipse cx="0.2" cy="55.8" rx="28.8" ry="13.4" fill="#fcb136"/>
<ellipse cx="0.2" cy="56.6" rx="28.5" ry="13.3" fill="#fdac34"/>
<ellipse cx="0.2" cy="57.3" rx="28.2" ry="13.2" fill="#fea431"/>
<ellipse cx="0.2" cy="58.1" rx="27.9" ry="13.0" fill="#fe9e2f"/>
<ellipse cx="0.2" cy="58.8" rx="27.6" ry="12.9" fill="#fe992c"/>
<ellipse cx="0.2" cy="59.6" rx="27.2" ry="12.7" fill="#fe9029"/>
<ellipse cx="0.2" cy="60.3" rx="26.9" ry="12.5" fill="#fd8a26"/>
<ellipse cx="0.2" cy="61.1" rx="26.5" ry="12.4" fill="#fc8423"/>
<ellipse cx="0.2" cy="61.8" rx="26.2" ry="12.2" fill="#fb7e21"/>
<ellipse cx="0.2" cy="62.5" rx="25.8" ry="12.1" fill="#f9751d"/>
<ellipse cx="0.2" cy="63.3" rx="25.5" ry="11.9" fill="#f76f1a"/>
<ellipse cx="0.2" cy="64.0" rx="25.1" ry="11.7" fill="#f56918"/>
<ellipse cx="0.2" cy="64.7" rx="24.8" ry="11.6" fill="#f26014"/>
<ellipse cx="0.3" cy="65.5" rx="24.5" ry="11.4" fill="#f05b12"/>
<ellipse cx="0.3" cy="66.3" rx="24.1" ry="11.3" fill="#ed5510"/>
<ellipse cx="0.3" cy="67.0" rx="23.8" ry="11.1" fill="#ea4e0d"/>
<ellipse cx="0.3" cy="67.8" rx="23.4" ry="10.9" fill="#e7490c"/>
<ellipse cx="0.3" cy="68.5" rx="23.1" ry="10.8" fill="#e4450a"/>
<ellipse cx="0.3" cy="69.3" rx="22.8" ry="10.6" fill="#df3f08"/>
<ellipse cx="0.3" cy="70.0" rx="22.4" ry="10.5" fill="#dc3b07"/>
<ellipse cx="0.3" cy="70.7" rx="22.1" ry="10.3" fill="#d83706"/>
<ellipse cx="0.3" cy="71.5" rx="21.8" ry="10.2" fill="#d23105"/>
<ellipse cx="0.3" cy="72.2" rx="21.5" ry="10.0" fill="#ce2d04"/>
<ellipse cx="0.3" cy="73.0" rx="21.1" ry="9.9" fill="#ca2a04"/>
<ellipse cx="0.3" cy="73.8" rx="20.8" ry="9.7" fill="#c32503"/>
<ellipse cx="0.3" cy="74.5" rx="20.5" ry="9.6" fill="#be2102"/>
<ellipse cx="0.3" cy="75.3" rx="20.2" ry="9.4" fill="#b71d02"/>
<ellipse cx="0.3" cy="76.0" rx="19.8" ry="9.3" fill="#b21a01"/>
<ellipse cx="0.3" cy="76.8" rx="19.5" ry="9.1" fill="#ac1701"/>
<ellipse cx="0.3" cy="77.6" rx="19.2" ry="9.0" fill="#a41301"/>
<ellipse cx="0.3" cy="78.3" rx="18.9" ry="8.8" fill="#9e1001"/>
<ellipse cx="0.3" cy="79.1" rx="18.5" ry="8.7" fill="#980e01"/>
<ellipse cx="0.3" cy="79.9" rx="18.2" ry="8.5" fill="#8e0a01"/>
<ellipse cx="0.3" cy="80.6" rx="17.9" ry="8.3" fill="#880802"/>
<ellipse cx="0.3" cy="81.4" rx="17.5" ry="8.2" fill="#7e0502"/>
<ellipse cx="0.3" cy="82.1" rx="17.2" ry="8.0" fill="#7a0403"/>
<ellipse cx="0.3" cy="82.9" rx="16.9" ry="7.9" fill="#7a0403"/>
<ellipse cx="0.3" cy="83.6" rx="16.6" ry="7.7" fill="#7a0403"/>
<ellipse cx="0.3" cy="84.4" rx="16.2" ry="7.6" fill="#7a0403"/>
<ellipse cx="0.3" cy="85.1" rx="15.9" ry="7.4" fill="#7a0403"/>
<ellipse cx="0.3" cy="85.8" rx="15.6" ry="7.3" fill="#7a0403"/>
<ellipse cx="0.3" cy="86.6" rx="15.2" ry="7.1" fill="#7a0403"/>
<ellipse cx="0.3" cy="87.4" rx="14.9" ry="7.0" fill="#7a0403"/>
<ellipse cx="0.3" cy="88.1" rx="14.6" ry="6.8" fill="#7a0403"/>
<ellipse cx="0.3" cy="88.9" rx="14.2" ry="6.6" fill="#7a0403"/>
<ellipse cx="0.3" cy="89.6" rx="13.9" ry="6.5" fill="#7a0403"/>
<ellipse cx="0.3" cy="90.3" rx="13.5" ry="6.3" fill="#7a0403"/>
<ellipse cx="0.3" cy="91.1" rx="13.2" ry="6.1" fill="#7a0403"/>
<ellipse cx="0.4" cy="91.8" rx="12.8" ry="6.0" fill="#7a0403"/>
<ellipse cx="0.4" cy="92.6" rx="12.4" ry="5.8" fill="#7a0403"/>
<ellipse cx="0.4" cy="93.3" rx="12.1" ry="5.6" fill="#7a0403"/>
<ellipse cx="0.4" cy="94.0" rx="11.7" ry="5.5" fill="#7a0403"/>
<ellipse cx="0.4" cy="94.8" rx="11.3" ry="5.3" fill="#7a0403"/>
<ellipse cx="0.4" cy="95.5" rx="10.9" ry="5.1" fill="#7a0403"/>
<ellipse cx="0.4" cy="96.2" rx="10.6" ry="4.9" fill="#7a0403"/>
<ellipse cx="0.4" cy="96.9" rx="10.2" ry="4.7" fill="#7a0403"/>
<ellipse cx="0.4" cy="97.6" rx="9.7" ry="4.5" fill="#7a0403"/>
<ellipse cx="0.4" cy="98.3" rx="9.3" ry="4.4" fill="#7a0403"/>
<ellipse cx="0.4" cy="99.0" rx="8.9" ry="4.2" fill="#7a0403"/>
<ellipse cx="0.4" cy="99.7" rx="8.5" ry="3.9" fill="#7a0403"/>
<ellipse cx="0.4" cy="100.4" rx="8.0" ry="3.7" fill="#7a0403"/>
<ellipse cx="0.4" cy="101.0" rx="7.5" ry="3.5" fill="#7a0403"/>
<ellipse cx="0.4" cy="101.7" rx="7.1" ry="3.3" fill="#7a0403"/>
<ellipse cx="0.4" cy="102.3" rx="6.6" ry="3.1" fill="#7a0403"/>
<ellipse cx="0.4" cy="102.9" rx="6.1" ry="2.8" fill="#7a0403"/>
<ellipse cx="0.4" cy="103.5" rx="5.5" ry="2.6" fill="#7a0403"/>
<ellipse cx="0.4" cy="104.1" rx="4.9" ry="2.3" fill="#7a0403"/>
<ellipse cx="0.4" cy="104.7" rx="4.3" ry="2.0" fill="#7a0403"/>
<ellipse cx="0.4" cy="105.2" rx="3.7" ry="1.7" fill="#7a0403"/>
<ellipse cx="0.4" cy="105.6" rx="3.0" ry="1.4" fill="#7a0403"/>
<ellipse cx="0.4" cy="106.0" rx="2.3" ry="1.1" fill="#7a0403"/>
<ellipse cx="0.4" cy="106.3" rx="1.5" ry="0.7" fill="#7a0403"/>
<ellipse cx="0.4" cy="106.4" rx="0.8" ry="0.4" fill="#7a0403"/>
</g></g>
<line x1="866.2" y1="237.6" x2="910.7" y2="264.8" stroke="#ee1c1c" stroke-width="1.3"/>
<line x1="944.9" y1="206.5" x2="989" y2="233.5" stroke="#ee1c1c" stroke-width="1.3"/>
<line x1="906.8" y1="260.5" x2="985.4" y2="231.3" stroke="#ee1c1c" stroke-width="1.2" marker-start="url(#oar)" marker-end="url(#oar)"/>
<text x="932.5" y="244.3" transform="rotate(-19.4 932.5 244.3)" font-family="Liberation Serif" font-weight="bold" font-size="14" fill="#ffe722" text-anchor="middle" stroke="#ffe722" stroke-width="0.35">2.4mm</text>
<g font-family="Liberation Serif" font-weight="bold" font-size="12.1" fill="#262626">
<text x="786.8" y="223.1" text-anchor="middle">2</text>
<text x="809.3" y="237" text-anchor="middle">1</text>
<text x="831.3" y="249.9" text-anchor="middle">0</text>
<text x="851.5" y="263.7" text-anchor="middle">-1</text>
<text x="873.1" y="276.6" text-anchor="middle">-2</text>
<text x="896" y="277.9" text-anchor="middle">-2</text>
<text x="924.8" y="267.1" text-anchor="middle">-1</text>
<text x="951.6" y="257.2" text-anchor="middle">0</text>
<text x="980" y="247.7" text-anchor="middle">1</text>
<text x="1008" y="237" text-anchor="middle">2</text>
<text x="792.4" y="212.4" text-anchor="end">0</text>
<text x="792.4" y="191.7" text-anchor="end">100</text>
<text x="792.4" y="170.1" text-anchor="end">200</text>
<text x="792.4" y="149.4" text-anchor="end">300</text>
<text x="792.4" y="128.3" text-anchor="end">400</text>
<text x="792.4" y="106.7" text-anchor="end">500</text>
</g>
<g font-family="Liberation Serif" font-weight="bold" font-size="13.1" fill="#262626" text-anchor="middle">
<text x="815.7" y="279.2">Y(mm)</text>
<text x="960.6" y="282.6">X(mm)</text>
<text x="767" y="151" transform="rotate(-90 767 151)">Energy Density(W/mm<tspan dy="-5.2" font-size="9.4">2</tspan><tspan dy="5.2">)</tspan></text>
</g>
<g font-family="Liberation Serif" font-weight="bold" fill="#000">
<text x="54.4" y="40.7" font-size="21">(a)</text>
<text x="160.8" y="38.4" font-size="18.85">Infrared laser</text>
<text x="423.5" y="34" font-size="21">(c)</text>
<text x="509.6" y="34.8" font-size="18.7">Blue laser</text>
<text x="739" y="37.3" font-size="21">(e)</text>
<text x="845" y="35.6" font-size="18.6">Hybrid laser</text>
</g>
<defs>
<radialGradient id="ball" cx="46%" cy="44%" r="58%"><stop offset="0" stop-color="#f7f7f7"/><stop offset="0.12" stop-color="#ececec"/><stop offset="0.42" stop-color="#c8c8c8"/><stop offset="0.78" stop-color="#9e9e9e"/><stop offset="1" stop-color="#7e7e7e"/></radialGradient>
<radialGradient id="peach" cx="50%" cy="50%" r="55%"><stop offset="0" stop-color="#fff6ee"/><stop offset="1" stop-color="#f6c09a"/></radialGradient>
<linearGradient id="cloudg" x1="0" x2="1" y1="0" y2="0"><stop offset="0" stop-color="#ecf2f4"/><stop offset="0.45" stop-color="#e9f1ee"/><stop offset="1" stop-color="#e3eddc"/></linearGradient>
<linearGradient id="redbeam" x1="0" x2="0" y1="0" y2="1"><stop offset="0" stop-color="#fb2525"/><stop offset="0.2" stop-color="#f83a3a" stop-opacity="0.97"/><stop offset="0.27" stop-color="#f26060" stop-opacity="0.78"/><stop offset="0.5" stop-color="#f38a7c" stop-opacity="0.6"/><stop offset="0.75" stop-color="#f6a684" stop-opacity="0.45"/><stop offset="1" stop-color="#f6b48a" stop-opacity="0"/></linearGradient>
<linearGradient id="redbeamh" x1="0" x2="1" y1="0" y2="0"><stop offset="0" stop-color="#f00" stop-opacity="0.35"/><stop offset="0.35" stop-color="#fff" stop-opacity="0.05"/><stop offset="1" stop-color="#fff" stop-opacity="0.34"/></linearGradient>
<linearGradient id="bluebeam" x1="0" x2="0" y1="0" y2="1"><stop offset="0" stop-color="#2d2fe9"/><stop offset="0.5" stop-color="#3034ea"/><stop offset="0.515" stop-color="#8a8eea" stop-opacity="0.95"/><stop offset="0.72" stop-color="#9a9fea" stop-opacity="0.9"/><stop offset="0.88" stop-color="#bcc2ec" stop-opacity="0.75"/><stop offset="1" stop-color="#dfe4f4" stop-opacity="0"/></linearGradient>
<linearGradient id="hybeam" x1="0" x2="0" y1="0" y2="1"><stop offset="0" stop-color="#ee4f68"/><stop offset="0.14" stop-color="#ea5a7c"/><stop offset="0.17" stop-color="#e87ea6" stop-opacity="0.85"/><stop offset="0.45" stop-color="#e89ab8" stop-opacity="0.75"/><stop offset="0.75" stop-color="#efb0b8" stop-opacity="0.6"/><stop offset="1" stop-color="#f4c8c0" stop-opacity="0"/></linearGradient>
<linearGradient id="hybeamb" x1="0" x2="0" y1="0" y2="1"><stop offset="0" stop-color="#6a6af0" stop-opacity="0"/><stop offset="0.13" stop-color="#7a78ee" stop-opacity="0.08"/><stop offset="0.2" stop-color="#8486ee" stop-opacity="0.6"/><stop offset="0.35" stop-color="#8a8cf0" stop-opacity="0.75"/><stop offset="0.6" stop-color="#9aa0f0" stop-opacity="0.65"/><stop offset="1" stop-color="#b0b8f0" stop-opacity="0"/></linearGradient>
<marker id="mw" viewBox="0 0 10 10" refX="8.5" refY="5" markerWidth="6.5" markerHeight="6.5" orient="auto"><path d="M0,0.8 L10,5 L0,9.2 L2.5,5 Z" fill="#f4f8f2"/></marker>
<marker id="mk" viewBox="0 0 10 10" refX="7" refY="5" markerWidth="3.8" markerHeight="3.8" orient="auto"><path d="M0,0.5 L10,5 L0,9.5 L2.5,5 Z" fill="#000"/></marker>
<marker id="mr" viewBox="0 0 10 10" refX="8.5" refY="5" markerWidth="5.5" markerHeight="5.5" orient="auto"><path d="M0,0.8 L10,5 L0,9.2 L2.5,5 Z" fill="#f01414"/></marker>
<marker id="mrb" viewBox="0 0 10 10" refX="4" refY="5" markerWidth="4.2" markerHeight="4.2" orient="auto"><path d="M0,0 L10,5 L0,10 Z" fill="#f01414"/></marker>
<marker id="mbb" viewBox="0 0 10 10" refX="4" refY="5" markerWidth="5" markerHeight="5" orient="auto"><path d="M0,0 L10,5 L0,10 Z" fill="#3333f5"/></marker>
<marker id="mgb" viewBox="0 0 10 10" refX="4" refY="5" markerWidth="4.3" markerHeight="4.3" orient="auto"><path d="M0,0 L10,5 L0,10 Z" fill="#149614"/></marker>
<marker id="msb" viewBox="0 0 10 10" refX="6" refY="5" markerWidth="4" markerHeight="4" orient="auto"><path d="M0,0.5 L10,5 L0,9.5 L2,5 Z" fill="#3c6f9c"/></marker>
<marker id="mo" viewBox="0 0 10 10" refX="5" refY="5" markerWidth="3.6" markerHeight="3.6" orient="auto"><path d="M0,0.5 L10,5 L0,9.5 L1.5,5 Z" fill="#f4b183"/></marker>
<marker id="mg" viewBox="0 0 10 10" refX="8" refY="5" markerWidth="5" markerHeight="5" orient="auto"><path d="M0,1 L10,5 L0,9 L2.5,5 Z" fill="#666"/></marker>
<marker id="mbs" viewBox="0 0 10 10" refX="7" refY="5" markerWidth="4" markerHeight="4" orient="auto"><path d="M0,0.5 L10,5 L0,9.5 Z" fill="#2b3bf0"/></marker>
<filter id="glow" x="-10%" y="-30%" width="120%" height="160%"><feGaussianBlur stdDeviation="1.05"/></filter>
<linearGradient id="inb" gradientUnits="userSpaceOnUse" x1="0" x2="0" y1="343" y2="464"><stop offset="0" stop-color="#ee7070" stop-opacity="0.78"/><stop offset="0.3" stop-color="#f08a7c" stop-opacity="0.68"/><stop offset="0.65" stop-color="#f4a684" stop-opacity="0.5"/><stop offset="1" stop-color="#f6b890" stop-opacity="0"/></linearGradient>
<linearGradient id="inbh" x1="0" x2="1" y1="0" y2="0"><stop offset="0" stop-color="#ee3030" stop-opacity="0.22"/><stop offset="0.5" stop-color="#fff" stop-opacity="0"/><stop offset="1" stop-color="#fff" stop-opacity="0.2"/></linearGradient>
<linearGradient id="redtop" gradientUnits="userSpaceOnUse" x1="156" x2="188" y1="0" y2="0"><stop offset="0" stop-color="#fb1616"/><stop offset="0.4" stop-color="#fc3a3a"/><stop offset="1" stop-color="#fe7070"/></linearGradient>
<linearGradient id="ind" gradientUnits="userSpaceOnUse" x1="0" x2="0" y1="382" y2="446"><stop offset="0" stop-color="#8a8eea" stop-opacity="0.95"/><stop offset="0.45" stop-color="#989dea" stop-opacity="0.9"/><stop offset="0.75" stop-color="#bcc2ec" stop-opacity="0.75"/><stop offset="1" stop-color="#dfe4f4" stop-opacity="0"/></linearGradient>
<linearGradient id="inf" gradientUnits="userSpaceOnUse" x1="0" x2="0" y1="337" y2="449"><stop offset="0" stop-color="#e87ea6" stop-opacity="0.85"/><stop offset="0.35" stop-color="#e89ab8" stop-opacity="0.75"/><stop offset="0.7" stop-color="#efb0b8" stop-opacity="0.6"/><stop offset="1" stop-color="#f4c8c0" stop-opacity="0"/></linearGradient>
<linearGradient id="infb" gradientUnits="userSpaceOnUse" x1="0" x2="0" y1="337" y2="449"><stop offset="0" stop-color="#8486ee" stop-opacity="0.45"/><stop offset="0.2" stop-color="#8a8cf0" stop-opacity="0.75"/><stop offset="0.6" stop-color="#9aa0f0" stop-opacity="0.65"/><stop offset="1" stop-color="#b0b8f0" stop-opacity="0"/></linearGradient>
<linearGradient id="ftop" gradientUnits="userSpaceOnUse" x1="0" x2="0" y1="325" y2="360"><stop offset="0" stop-color="#ee4f68"/><stop offset="1" stop-color="#e85c80"/></linearGradient>
</defs>
<rect x="40.4" y="507.6" width="312.8" height="137.2" fill="#808080"/>
<path d="M107.2,455 C111,461 117,467 126,470 L200,460 C214,455 226,463 232,476 C238,488 243,498 244.5,508 C238,514 226,526 213.6,541.5 C206,553 203,560 199.4,570 C195,581 193,588 191.1,593.6 C189,603 188,608 186.4,612.5 C184,622 182,628 179.3,628 C176,628 172,617 168.6,607.8 C164,596 160,585 154.4,572.3 C149,561 144,552 137.9,541.5 C132,532 127,526 121.3,520.2 C114,514 110,511 107.2,507.7 C108,500 112.3,490 112.3,480 C112.3,472 109.5,463 107.2,455 Z" fill="#c7940a"/>
<path d="M153.5,455 C155,470 156,482 157.2,492 C159,507 160,514 160.8,519 C162,530 163.5,536 165,540 C167.5,547 170,550.3 173.3,550.3 C177,550.3 180,544 183.5,530 C186,519 188,510 189.6,499 C191,488 192,478 194,468 L197,455 Z" fill="#fff"/>
<ellipse cx="211.2" cy="506.6" rx="5.6" ry="11.4" transform="rotate(-13 211.2 506.6)" fill="#fff"/>
<ellipse cx="197.8" cy="534" rx="4.3" ry="7.8" transform="rotate(-14 197.8 534)" fill="#fff"/>
<path d="M81.5,434.5 C83,430.5 89,429.6 95,430 C99.5,430.3 100.5,433 99.5,437 C98.8,441 100.5,445 102,448.5 C98,448.6 93.5,446.5 91.5,443 C88,441.8 80,439.5 81.5,434.5 Z" fill="#c7940a"/>
<ellipse cx="48.4" cy="476.2" rx="6.8" ry="7.8" fill="url(#ball)"/><ellipse cx="66.2" cy="477.3" rx="6.8" ry="7.8" fill="url(#ball)"/><ellipse cx="57.3" cy="476.7" rx="6.8" ry="7.8" fill="url(#ball)"/><ellipse cx="80.1" cy="475.6" rx="6.8" ry="7.8" fill="url(#ball)"/><ellipse cx="46.1" cy="490.1" rx="6.8" ry="7.8" fill="url(#ball)"/><ellipse cx="58.9" cy="488.9" rx="6.8" ry="7.8" fill="url(#ball)"/><ellipse cx="71.7" cy="490.6" rx="6.8" ry="7.8" fill="url(#ball)"/><ellipse cx="85.6" cy="488.9" rx="6.8" ry="7.8" fill="url(#ball)"/><ellipse cx="59.5" cy="500.6" rx="6.8" ry="7.8" fill="url(#ball)"/><ellipse cx="83.4" cy="501.7" rx="6.8" ry="7.8" fill="url(#ball)"/><ellipse cx="47.2" cy="504.5" rx="6.8" ry="7.8" fill="url(#ball)"/><ellipse cx="71.7" cy="505.1" rx="6.8" ry="7.8" fill="url(#ball)"/><ellipse cx="96.7" cy="499" rx="6.8" ry="7.8" fill="url(#ball)"/>
<ellipse cx="314.9" cy="475.3" rx="7" ry="8.1" fill="url(#ball)"/><ellipse cx="329.9" cy="474.7" rx="7" ry="8.1" fill="url(#ball)"/><ellipse cx="339.7" cy="476.4" rx="7" ry="8.1" fill="url(#ball)"/><ellipse cx="349" cy="478.7" rx="7" ry="8.1" fill="url(#ball)"/><ellipse cx="299.2" cy="470" rx="7" ry="8.1" fill="url(#ball)"/><ellipse cx="294.6" cy="488" rx="7" ry="8.1" fill="url(#ball)"/><ellipse cx="307.3" cy="488.6" rx="7" ry="8.1" fill="url(#ball)"/><ellipse cx="323" cy="487.4" rx="7" ry="8.1" fill="url(#ball)"/><ellipse cx="335.7" cy="489.7" rx="7" ry="8.1" fill="url(#ball)"/><ellipse cx="347.8" cy="489.7" rx="7" ry="8.1" fill="url(#ball)"/><ellipse cx="295.2" cy="500.1" rx="7" ry="8.1" fill="url(#ball)"/><ellipse cx="308.5" cy="501.3" rx="7" ry="8.1" fill="url(#ball)"/><ellipse cx="321.8" cy="501.9" rx="7" ry="8.1" fill="url(#ball)"/><ellipse cx="334.5" cy="501.3" rx="7" ry="8.1" fill="url(#ball)"/><ellipse cx="347.3" cy="501.9" rx="7" ry="8.1" fill="url(#ball)"/>
<ellipse cx="266.2" cy="493.8" rx="6.6" ry="6.6" fill="url(#ball)"/>
<circle cx="255.3" cy="490.3" r="11.2" fill="url(#peach)" stroke="#f01414" stroke-width="1.7" stroke-dasharray="3.8 2.1"/>
<ellipse cx="258.7" cy="480.5" rx="7.4" ry="7.4" fill="url(#ball)"/><ellipse cx="248.9" cy="496.7" rx="7.4" ry="7.4" fill="url(#ball)"/>
<path d="M246.2,481.8 L251,477" stroke="#f01414" stroke-width="2" fill="none"/>
<ellipse cx="51" cy="351.6" rx="7.4" ry="7.4" fill="url(#ball)"/><ellipse cx="71.9" cy="414" rx="6.8" ry="6.8" fill="url(#ball)"/><ellipse cx="317.6" cy="353" rx="7.4" ry="7.4" fill="url(#ball)"/><ellipse cx="292.3" cy="385.7" rx="7.4" ry="7.4" fill="url(#ball)"/>
<linearGradient id="cg1" gradientUnits="userSpaceOnUse" x1="103.9" x2="241.7" y1="0" y2="0"><stop offset="0" stop-color="#f1f6f4"/><stop offset="0.42" stop-color="#ecf3ef"/><stop offset="0.62" stop-color="#e6efe3"/><stop offset="1" stop-color="#e2ecd9"/></linearGradient><g fill="url(#cg1)" stroke="#5f8fb8" stroke-width="1"><circle cx="172" cy="361.5" r="18.5"/><circle cx="141" cy="370.5" r="15.8"/><circle cx="120.4" cy="397" r="16.5"/><circle cx="122.3" cy="427.5" r="15.8"/><circle cx="132" cy="449.5" r="18.5"/><circle cx="160.5" cy="455" r="13.6"/><circle cx="183" cy="452.5" r="14.5"/><circle cx="205.5" cy="446" r="17.2"/><circle cx="225.2" cy="413" r="16.5"/><circle cx="226.6" cy="383.8" r="14.8"/><circle cx="205.9" cy="367" r="17.5"/></g><g fill="url(#cg1)"><polygon points="172,358 138.9,367.7 117,396.1 119,428.6 129.5,451.9 159.6,458.4 183.9,455.9 207.9,448.5 228.7,413.1 229.7,382.2 208,364.2"/><ellipse cx="173" cy="408" rx="55" ry="50"/></g>
<ellipse cx="117.3" cy="374" rx="7.4" ry="7.4" fill="url(#ball)"/>
<path d="M156.6,308.8 L187.8,308.8 L185.4,361.5 L158.6,361.5 Z" fill="url(#redtop)"/><clipPath id="clb"><circle cx="172" cy="361.5" r="18.5"/><rect x="133.5" y="361.5" width="77" height="104.5"/></clipPath><g clip-path="url(#clb)"><path d="M157.8,342 L186.3,342 L180.8,464 L162.4,464 Z" fill="url(#cg1)"/><path d="M157.8,342 L186.3,342 L180.8,464 L162.4,464 Z" fill="url(#inb)"/><path d="M157.8,342 L186.3,342 L180.8,464 L162.4,464 Z" fill="url(#inbh)"/></g><path d="M157.2,350.5 A18.5,18.5 0 0 1 186.9,350.6" fill="none" stroke="#5f8fb8" stroke-width="1" opacity="0.85"/>
<circle cx="142.7" cy="366" r="5.8" fill="#2f6aa0"/><path d="M137.9,366 h9.6 M142.7,361.2 v9.6" stroke="#fff" stroke-width="1.3"/><circle cx="167.1" cy="364.1" r="5.8" fill="#2f6aa0"/><path d="M162.3,364.1 h9.6 M167.1,359.3 v9.6" stroke="#fff" stroke-width="1.3"/><circle cx="139.8" cy="381" r="5.8" fill="#2f6aa0"/><path d="M135,381 h9.6 M139.8,376.2 v9.6" stroke="#fff" stroke-width="1.3"/><circle cx="152.1" cy="381" r="5.8" fill="#2f6aa0"/><path d="M147.3,381 h9.6 M152.1,376.2 v9.6" stroke="#fff" stroke-width="1.3"/><circle cx="166.1" cy="379.7" r="5.8" fill="#2f6aa0"/><path d="M161.3,379.7 h9.6 M166.1,374.9 v9.6" stroke="#fff" stroke-width="1.3"/><circle cx="138.8" cy="396.6" r="5.8" fill="#2f6aa0"/><path d="M134,396.6 h9.6 M138.8,391.8 v9.6" stroke="#fff" stroke-width="1.3"/><circle cx="153.4" cy="397.8" r="5.8" fill="#2f6aa0"/><path d="M148.6,397.8 h9.6 M153.4,393 v9.6" stroke="#fff" stroke-width="1.3"/><circle cx="168.6" cy="398.6" r="5.8" fill="#2f6aa0"/><path d="M163.8,398.6 h9.6 M168.6,393.8 v9.6" stroke="#fff" stroke-width="1.3"/><circle cx="143.1" cy="409.5" r="5.8" fill="#2f6aa0"/><path d="M138.3,409.5 h9.6 M143.1,404.7 v9.6" stroke="#fff" stroke-width="1.3"/><circle cx="155.8" cy="415.7" r="5.8" fill="#2f6aa0"/><path d="M151,415.7 h9.6 M155.8,410.9 v9.6" stroke="#fff" stroke-width="1.3"/><circle cx="168.1" cy="419.6" r="5.8" fill="#2f6aa0"/><path d="M163.3,419.6 h9.6 M168.1,414.8 v9.6" stroke="#fff" stroke-width="1.3"/><circle cx="134.9" cy="424.9" r="5.8" fill="#2f6aa0"/><path d="M130.1,424.9 h9.6 M134.9,420.1 v9.6" stroke="#fff" stroke-width="1.3"/><circle cx="146.6" cy="430.3" r="5.8" fill="#2f6aa0"/><path d="M141.8,430.3 h9.6 M146.6,425.5 v9.6" stroke="#fff" stroke-width="1.3"/><circle cx="160.3" cy="433.3" r="5.8" fill="#2f6aa0"/><path d="M155.5,433.3 h9.6 M160.3,428.5 v9.6" stroke="#fff" stroke-width="1.3"/><circle cx="174.5" cy="431.7" r="5.8" fill="#2f6aa0"/><path d="M169.7,431.7 h9.6 M174.5,426.9 v9.6" stroke="#fff" stroke-width="1.3"/><circle cx="135.3" cy="442" r="5.8" fill="#2f6aa0"/><path d="M130.5,442 h9.6 M135.3,437.2 v9.6" stroke="#fff" stroke-width="1.3"/><circle cx="153.4" cy="447.5" r="5.8" fill="#2f6aa0"/><path d="M148.6,447.5 h9.6 M153.4,442.7 v9.6" stroke="#fff" stroke-width="1.3"/><circle cx="168.6" cy="445.9" r="5.8" fill="#2f6aa0"/><path d="M163.8,445.9 h9.6 M168.6,441.1 v9.6" stroke="#fff" stroke-width="1.3"/><circle cx="135.9" cy="455.7" r="5.8" fill="#2f6aa0"/><path d="M131.1,455.7 h9.6 M135.9,450.9 v9.6" stroke="#fff" stroke-width="1.3"/>
<circle cx="181.7" cy="363.5" r="5.8" fill="#f4b183"/><path d="M177.1,363.5 h9.2" stroke="#fff" stroke-width="1.4"/><circle cx="181.7" cy="377.7" r="5.8" fill="#f4b183"/><path d="M177.1,377.7 h9.2" stroke="#fff" stroke-width="1.4"/><circle cx="195.3" cy="378.3" r="5.8" fill="#f4b183"/><path d="M190.7,378.3 h9.2" stroke="#fff" stroke-width="1.4"/><circle cx="209.9" cy="384.5" r="5.8" fill="#f4b183"/><path d="M205.3,384.5 h9.2" stroke="#fff" stroke-width="1.4"/><circle cx="221.6" cy="376.8" r="5.8" fill="#f4b183"/><path d="M217,376.8 h9.2" stroke="#fff" stroke-width="1.4"/><circle cx="182.7" cy="395.3" r="5.8" fill="#f4b183"/><path d="M178.1,395.3 h9.2" stroke="#fff" stroke-width="1.4"/><circle cx="196.3" cy="398.2" r="5.8" fill="#f4b183"/><path d="M191.7,398.2 h9.2" stroke="#fff" stroke-width="1.4"/><circle cx="219.7" cy="392.7" r="5.8" fill="#f4b183"/><path d="M215.1,392.7 h9.2" stroke="#fff" stroke-width="1.4"/><circle cx="211.9" cy="404" r="5.8" fill="#f4b183"/><path d="M207.3,404 h9.2" stroke="#fff" stroke-width="1.4"/><circle cx="186.6" cy="409.5" r="5.8" fill="#f4b183"/><path d="M182,409.5 h9.2" stroke="#fff" stroke-width="1.4"/><circle cx="199.2" cy="417.7" r="5.8" fill="#f4b183"/><path d="M194.6,417.7 h9.2" stroke="#fff" stroke-width="1.4"/><circle cx="226.5" cy="409.9" r="5.8" fill="#f4b183"/><path d="M221.9,409.9 h9.2" stroke="#fff" stroke-width="1.4"/><circle cx="183.6" cy="422.5" r="5.8" fill="#f4b183"/><path d="M179,422.5 h9.2" stroke="#fff" stroke-width="1.4"/><circle cx="196.3" cy="430.3" r="5.8" fill="#f4b183"/><path d="M191.7,430.3 h9.2" stroke="#fff" stroke-width="1.4"/><circle cx="185.6" cy="436.2" r="5.8" fill="#f4b183"/><path d="M181,436.2 h9.2" stroke="#fff" stroke-width="1.4"/><circle cx="198.3" cy="444.9" r="5.8" fill="#f4b183"/><path d="M193.7,444.9 h9.2" stroke="#fff" stroke-width="1.4"/><circle cx="182.7" cy="447.9" r="5.8" fill="#f4b183"/><path d="M178.1,447.9 h9.2" stroke="#fff" stroke-width="1.4"/>
<g fill="none" stroke="#f01414" stroke-width="1.8">
<path d="M172.2,463.8 L162.9,505.7" marker-end="url(#mr)"/><path d="M162.9,505.7 L186.8,521.7" marker-end="url(#mr)"/><path d="M186.8,521.7 L163.4,532.6" marker-end="url(#mr)"/><path d="M163.4,532.6 L184.9,502.8" marker-end="url(#mr)"/>
</g>
<g fill="none" stroke="#3333f5" stroke-width="2.2">
<path d="M90.4,333 L95.6,400 C96.2,425 96,438 94,450 C92.5,460 90,465 88,468.5" />
<path d="M90.3,335 L90.4,333" marker-end="url(#mbb)"/>
<path d="M127.3,357 L121.8,425 C120.5,445 118,462 113,474 C110.5,480 106,482.5 101,483.5 L99.5,485"/>
<path d="M127.2,359 L127.4,357" marker-end="url(#mbb)"/>
</g>
<ellipse cx="95.3" cy="384.2" rx="6.8" ry="9.2" fill="#3333f5"/><ellipse cx="121.6" cy="424.7" rx="6.8" ry="9.2" fill="#3333f5"/>
<ellipse cx="85" cy="476.5" rx="6.4" ry="9.2" fill="none" stroke="#3333f5" stroke-width="1.7" stroke-dasharray="3.8 2.1"/>
<ellipse cx="98.6" cy="494" rx="6.4" ry="9.2" fill="none" stroke="#3333f5" stroke-width="1.7" stroke-dasharray="3.8 2.1"/>
<g fill="none" stroke="#f01414" stroke-width="2.4">
<path d="M214.4,418 C211,400 209.5,380 210,362"/><path d="M210,364 L210,362" marker-end="url(#mrb)"/>
<path d="M217.5,438 C222,455 232,470 249.5,480.5"/>
<circle cx="213.8" cy="427.7" r="10.2" fill="url(#peach)"/>
</g>
<path d="M286.5,491 L279,491" stroke="#f01414" stroke-width="2.4"/><path d="M281,486.6 L273.6,491 L281,495.4 Z" fill="#f01414"/>
<ellipse cx="292.3" cy="479.4" rx="6.6" ry="9" fill="none" stroke="#f01414" stroke-width="1.7" stroke-dasharray="3.8 2.1"/>
<ellipse cx="307.5" cy="485.3" rx="6.4" ry="9" fill="none" stroke="#f01414" stroke-width="1.7" stroke-dasharray="3.8 2.1"/>
<ellipse cx="295.2" cy="500" rx="6.4" ry="9" fill="none" stroke="#f01414" stroke-width="1.7" stroke-dasharray="3.8 2.1"/>
<text x="316.8" y="497.5" font-size="16.22" text-anchor="start" fill="#f01414" font-family="Liberation Serif" font-weight="bold">Fuse</text>
<g fill="none" stroke="#149614" stroke-width="2.5">
<path d="M267,387.5 C269,378 273,370 279.5,364"/><path d="M278.5,365 L280,363.6" marker-end="url(#mgb)"/>
<path d="M272.5,402 C280,411 300,418 317.5,424"/>
<path d="M262,404.5 C261.5,420 266,436 279,444.8 C284,447 288,447.6 292.5,447.8"/>
<circle cx="265.6" cy="396" r="8.4" fill="url(#peach)"/>
</g>
<ellipse cx="323.4" cy="427.6" rx="6.4" ry="9.2" fill="none" stroke="#149614" stroke-width="1.7" stroke-dasharray="3.8 2.1"/>
<ellipse cx="299.5" cy="449.2" rx="6.6" ry="8.8" fill="none" stroke="#149614" stroke-width="1.7" stroke-dasharray="3.8 2.1"/>
<text x="275.9" y="406.2" font-size="16.54" text-anchor="start" fill="#149614" font-family="Liberation Serif" font-weight="bold">Collide</text>
<line x1="167" y1="363" x2="192" y2="345.8" stroke="#3c6f9c" stroke-width="1.9" marker-end="url(#msb)"/>
<line x1="222.7" y1="369" x2="222" y2="350" stroke="#f4b183" stroke-width="2.1" marker-end="url(#mo)"/>
<line x1="63" y1="422.7" x2="78.2" y2="432.2" stroke="#000" stroke-width="2.2" marker-end="url(#mk)"/>
<line x1="240.7" y1="454.1" x2="229.5" y2="443.5" stroke="#000" stroke-width="2.2" marker-end="url(#mk)"/>
<line x1="334.6" y1="365.3" x2="329" y2="356.6" stroke="#000" stroke-width="2.2" marker-end="url(#mk)"/>
<line x1="322.5" y1="387.7" x2="307.5" y2="389.9" stroke="#000" stroke-width="2.2" marker-end="url(#mk)"/>
<line x1="137.2" y1="515.5" x2="160" y2="498.3" stroke="#f4f8f2" stroke-width="1.3" marker-end="url(#mw)"/>
<line x1="231.9" y1="546.6" x2="216.6" y2="520.3" stroke="#f4f8f2" stroke-width="1.3" marker-end="url(#mw)"/>
<line x1="156.8" y1="566.3" x2="169.4" y2="552.6" stroke="#f4f8f2" stroke-width="1.3" marker-end="url(#mw)"/>
<line x1="204.1" y1="604.2" x2="193.8" y2="594.4" stroke="#f4f8f2" stroke-width="1.3" marker-end="url(#mw)"/>
<text x="43.7" y="322" font-size="21.84" text-anchor="start" fill="#000" font-family="Liberation Serif" font-weight="bold">(b)</text>
<text x="55.5" y="370" font-size="16.12" text-anchor="start" fill="#3333f5" font-family="Liberation Serif" font-weight="bold">Suck</text>
<text x="23.8" y="400.3" font-size="16.12" text-anchor="start" fill="#000" font-family="Liberation Serif" font-weight="bold">Droplet</text>
<text x="23.8" y="420" font-size="16.12" text-anchor="start" fill="#000" font-family="Liberation Serif" font-weight="bold">splashing</text>
<text x="308.6" y="379.9" font-size="16.22" text-anchor="start" fill="#000" font-family="Liberation Serif" font-weight="bold">Spatters</text>
<text x="196" y="345.4" font-size="19.14" text-anchor="start" fill="#000" font-family="Liberation Serif" font-weight="bold">plasmas</text>
<text x="238.9" y="440.5" font-size="19.14" text-anchor="start" fill="#000" font-family="Liberation Serif" font-weight="bold">Metallic</text>
<text x="243.7" y="463.2" font-size="19.03" text-anchor="start" fill="#000" font-family="Liberation Serif" font-weight="bold">vapor</text>
<text x="76.4" y="529.1" font-size="19.34" text-anchor="start" fill="#4d4d4d" font-family="Liberation Serif" font-weight="bold">Incoming</text><text x="75.4" y="528.1" font-size="19.34" text-anchor="start" fill="#f2f7f0" font-family="Liberation Serif" font-weight="bold">Incoming</text>
<text x="95.3" y="550.6" font-size="18.93" text-anchor="start" fill="#4d4d4d" font-family="Liberation Serif" font-weight="bold">laser</text><text x="94.3" y="549.6" font-size="18.93" text-anchor="start" fill="#f2f7f0" font-family="Liberation Serif" font-weight="bold">laser</text>
<text x="128.9" y="580.4" font-size="19.34" text-anchor="start" fill="#4d4d4d" font-family="Liberation Serif" font-weight="bold">keyhole</text><text x="127.9" y="579.4" font-size="19.34" text-anchor="start" fill="#f2f7f0" font-family="Liberation Serif" font-weight="bold">keyhole</text>
<text x="218.8" y="560.3" font-size="18.2" text-anchor="start" fill="#4d4d4d" font-family="Liberation Serif" font-weight="bold">Pore</text><text x="217.8" y="559.3" font-size="18.2" text-anchor="start" fill="#f2f7f0" font-family="Liberation Serif" font-weight="bold">Pore</text>
<text x="197.5" y="620.6" font-size="16.74" text-anchor="start" fill="#4d4d4d" font-family="Liberation Serif" font-weight="bold">Molten Pool</text><text x="196.5" y="619.6" font-size="16.74" text-anchor="start" fill="#f2f7f0" font-family="Liberation Serif" font-weight="bold">Molten Pool</text>
<rect x="378.4" y="508.2" width="312" height="136.6" fill="#808080"/>
<ellipse cx="385.7" cy="476.8" rx="6.7" ry="8.1" fill="url(#ball)"/><ellipse cx="403" cy="478.8" rx="6.7" ry="8.1" fill="url(#ball)"/><ellipse cx="393.8" cy="476.8" rx="6.7" ry="8.1" fill="url(#ball)"/><ellipse cx="416.3" cy="476.8" rx="6.7" ry="8.1" fill="url(#ball)"/><ellipse cx="432" cy="478.3" rx="6.7" ry="8.1" fill="url(#ball)"/><ellipse cx="449.4" cy="481.9" rx="6.7" ry="8.1" fill="url(#ball)"/><ellipse cx="383.1" cy="490.6" rx="6.7" ry="8.1" fill="url(#ball)"/><ellipse cx="395.9" cy="490.6" rx="6.7" ry="8.1" fill="url(#ball)"/><ellipse cx="408.6" cy="490.6" rx="6.7" ry="8.1" fill="url(#ball)"/><ellipse cx="422.9" cy="490.6" rx="6.7" ry="8.1" fill="url(#ball)"/><ellipse cx="440.2" cy="489.5" rx="6.7" ry="8.1" fill="url(#ball)"/><ellipse cx="457.5" cy="492.6" rx="6.7" ry="8.1" fill="url(#ball)"/><ellipse cx="447.8" cy="492.6" rx="6.7" ry="8.1" fill="url(#ball)"/><ellipse cx="470.2" cy="489" rx="6.7" ry="8.1" fill="url(#ball)"/><ellipse cx="396.4" cy="500.7" rx="6.7" ry="8.1" fill="url(#ball)"/><ellipse cx="419.8" cy="501.8" rx="6.7" ry="8.1" fill="url(#ball)"/><ellipse cx="432" cy="500.7" rx="6.7" ry="8.1" fill="url(#ball)"/><ellipse cx="383.7" cy="503.8" rx="6.7" ry="8.1" fill="url(#ball)"/><ellipse cx="408.6" cy="505.3" rx="6.7" ry="8.1" fill="url(#ball)"/><ellipse cx="441.2" cy="506.3" rx="6.7" ry="8.1" fill="url(#ball)"/><ellipse cx="458.5" cy="502.8" rx="6.7" ry="8.1" fill="url(#ball)"/><ellipse cx="467.7" cy="501.8" rx="6.7" ry="8.1" fill="url(#ball)"/><ellipse cx="476.9" cy="503.8" rx="6.7" ry="8.1" fill="url(#ball)"/><ellipse cx="484.5" cy="500.7" rx="6.7" ry="8.1" fill="url(#ball)"/>
<ellipse cx="597.8" cy="478.6" rx="6.9" ry="8.2" fill="url(#ball)"/><ellipse cx="611.7" cy="478.6" rx="6.9" ry="8.2" fill="url(#ball)"/><ellipse cx="625.6" cy="480.5" rx="6.9" ry="8.2" fill="url(#ball)"/><ellipse cx="638.5" cy="476.8" rx="6.9" ry="8.2" fill="url(#ball)"/><ellipse cx="650.6" cy="476.8" rx="6.9" ry="8.2" fill="url(#ball)"/><ellipse cx="667.2" cy="475.9" rx="6.9" ry="8.2" fill="url(#ball)"/><ellipse cx="677.4" cy="477.7" rx="6.9" ry="8.2" fill="url(#ball)"/><ellipse cx="685.7" cy="480.5" rx="6.9" ry="8.2" fill="url(#ball)"/><ellipse cx="583.9" cy="490.7" rx="6.9" ry="8.2" fill="url(#ball)"/><ellipse cx="601.5" cy="489.7" rx="6.9" ry="8.2" fill="url(#ball)"/><ellipse cx="615.4" cy="490.7" rx="6.9" ry="8.2" fill="url(#ball)"/><ellipse cx="633.9" cy="491.6" rx="6.9" ry="8.2" fill="url(#ball)"/><ellipse cx="647.8" cy="491.2" rx="6.9" ry="8.2" fill="url(#ball)"/><ellipse cx="659.8" cy="488.8" rx="6.9" ry="8.2" fill="url(#ball)"/><ellipse cx="671.9" cy="491.6" rx="6.9" ry="8.2" fill="url(#ball)"/><ellipse cx="683" cy="492.5" rx="6.9" ry="8.2" fill="url(#ball)"/><ellipse cx="578.3" cy="504.6" rx="6.9" ry="8.2" fill="url(#ball)"/><ellipse cx="592.2" cy="503.6" rx="6.9" ry="8.2" fill="url(#ball)"/><ellipse cx="608.9" cy="503.6" rx="6.9" ry="8.2" fill="url(#ball)"/><ellipse cx="622.8" cy="501.8" rx="6.9" ry="8.2" fill="url(#ball)"/><ellipse cx="633" cy="507.3" rx="6.9" ry="8.2" fill="url(#ball)"/><ellipse cx="645.9" cy="503.6" rx="6.9" ry="8.2" fill="url(#ball)"/><ellipse cx="658.9" cy="503.6" rx="6.9" ry="8.2" fill="url(#ball)"/><ellipse cx="671.9" cy="504.6" rx="6.9" ry="8.2" fill="url(#ball)"/><ellipse cx="683.9" cy="503.6" rx="6.9" ry="8.2" fill="url(#ball)"/>
<ellipse cx="528.3" cy="480.2" rx="49.8" ry="33.8" fill="#c7940a"/>
<linearGradient id="cg2" gradientUnits="userSpaceOnUse" x1="478.1" x2="578" y1="0" y2="0"><stop offset="0" stop-color="#f1f6f4"/><stop offset="0.42" stop-color="#ecf3ef"/><stop offset="0.62" stop-color="#e6efe3"/><stop offset="1" stop-color="#e2ecd9"/></linearGradient><g fill="url(#cg2)" stroke="#5f8fb8" stroke-width="1"><circle cx="528.9" cy="394.6" r="12.2"/><circle cx="504.6" cy="402.4" r="12.2"/><circle cx="489.2" cy="414.4" r="11.1"/><circle cx="491.3" cy="428.9" r="10.6"/><circle cx="503.3" cy="437.6" r="10"/><circle cx="517.8" cy="439.6" r="9"/><circle cx="532.2" cy="440" r="8.3"/><circle cx="547.8" cy="437.6" r="9.4"/><circle cx="560.8" cy="433.2" r="10"/><circle cx="568.6" cy="421.1" r="9.4"/><circle cx="567.6" cy="407.8" r="9.4"/><circle cx="552.2" cy="399" r="11.1"/></g><g fill="url(#cg2)"><polygon points="528.7,391.1 501.8,400.3 485.7,413.8 487.9,429.6 500.3,439.4 515.8,442.5 532.5,443.5 550.4,440 564.1,434.5 572.1,421.1 570.9,406.6 554.6,396.5"/><ellipse cx="528" cy="418" rx="34" ry="20"/></g>
<ellipse cx="527.2" cy="452.7" rx="13" ry="7.4" fill="#fff"/>
<path d="M514.8,324.5 L543.9,324.5 L540.8,394.6 L518.4,394.6 Z" fill="#2e30ea"/><clipPath id="cld"><circle cx="528.9" cy="394.6" r="12.2"/><rect x="496.7" y="394.6" width="64.4" height="53.4"/></clipPath><g clip-path="url(#cld)"><path d="M517.7,381.4 L541.4,381.4 L538.5,446 L521,446 Z" fill="url(#cg2)"/><path d="M517.7,381.4 L541.4,381.4 L538.5,446 L521,446 Z" fill="url(#ind)"/></g><path d="M517,391.9 A12.2,12.2 0 0 1 542.1,394.6" fill="none" stroke="#5f8fb8" stroke-width="1" opacity="0.85"/>
<circle cx="509.5" cy="405.2" r="5.2" fill="#8db4e2"/><path d="M505.3,405.2 h8.4 M509.5,401 v8.4" stroke="#fff" stroke-width="1.3"/><circle cx="496.3" cy="422.3" r="5.2" fill="#8db4e2"/><path d="M492.1,422.3 h8.4 M496.3,418.1 v8.4" stroke="#fff" stroke-width="1.3"/><circle cx="509.5" cy="424.2" r="5.2" fill="#8db4e2"/><path d="M505.3,424.2 h8.4 M509.5,420 v8.4" stroke="#fff" stroke-width="1.3"/><circle cx="501.3" cy="436.4" r="5.2" fill="#8db4e2"/><path d="M497.1,436.4 h8.4 M501.3,432.2 v8.4" stroke="#fff" stroke-width="1.3"/><circle cx="515.9" cy="436.4" r="5.2" fill="#8db4e2"/><path d="M511.7,436.4 h8.4 M515.9,432.2 v8.4" stroke="#fff" stroke-width="1.3"/>
<circle cx="550.5" cy="405.2" r="5.2" fill="#f6c4a4"/><path d="M546.5,405.2 h8" stroke="#fff" stroke-width="1.4"/><circle cx="564.2" cy="414.4" r="5.2" fill="#f6c4a4"/><path d="M560.2,414.4 h8" stroke="#fff" stroke-width="1.4"/><circle cx="550.5" cy="418.9" r="5.2" fill="#f6c4a4"/><path d="M546.5,418.9 h8" stroke="#fff" stroke-width="1.4"/><circle cx="547.1" cy="434.2" r="5.2" fill="#f6c4a4"/><path d="M543.1,434.2 h8" stroke="#fff" stroke-width="1.4"/><circle cx="560.3" cy="435.6" r="5.2" fill="#f6c4a4"/><path d="M556.3,435.6 h8" stroke="#fff" stroke-width="1.4"/>
<path d="M523.3,456.5 L524.6,446.4" stroke="#2b3bf0" stroke-width="1.5" marker-end="url(#mbs)" fill="none"/><path d="M523.3,456.5 L537.5,454.2" stroke="#2b3bf0" stroke-width="1.5" marker-end="url(#mbs)" fill="none"/>
<g fill="none" stroke="#3333f5" stroke-width="1.9"><path d="M473,444 L474.6,430"/><path d="M474.4,432 L474.7,429.5" marker-end="url(#mbb)"/><path d="M468,459.5 L460.3,470.5"/><path d="M458,468.6 L462.8,472"/></g>
<ellipse cx="471.2" cy="452" rx="6.8" ry="9.1" fill="#3333f5"/>
<ellipse cx="455.9" cy="477.9" rx="6.5" ry="9" fill="none" stroke="#3333f5" stroke-width="1.7" stroke-dasharray="3.8 2.1"/>
<g fill="none" stroke="#f01414" stroke-width="1.9"><path d="M574.5,444 L571.2,437"/><path d="M571.8,438.4 L570.6,435.8" marker-end="url(#mrb)"/><path d="M579.5,459.5 L586.5,468.5"/><path d="M584,470.4 L588.8,466.8"/></g>
<ellipse cx="576.1" cy="452" rx="6.8" ry="9.1" fill="#f01414"/>
<ellipse cx="590.7" cy="477.3" rx="6.5" ry="9" fill="none" stroke="#f01414" stroke-width="1.7" stroke-dasharray="3.8 2.1"/>
<line x1="516.7" y1="403" x2="554.5" y2="385" stroke="#3c6f9c" stroke-width="1.9" marker-end="url(#msb)"/>
<line x1="564.2" y1="406.5" x2="563" y2="387.4" stroke="#f4b183" stroke-width="2.1" marker-end="url(#mo)"/>
<line x1="589.4" y1="424.5" x2="579.8" y2="414.9" stroke="#000" stroke-width="2.2" marker-end="url(#mk)"/>
<line x1="510" y1="472.6" x2="520.2" y2="462.4" stroke="#f4f8f2" stroke-width="1.3" marker-end="url(#mw)"/>
<line x1="536.8" y1="519.4" x2="524.2" y2="508.3" stroke="#f4f8f2" stroke-width="1.3" marker-end="url(#mw)"/>
<text x="419.7" y="324" font-size="21.84" text-anchor="start" fill="#000" font-family="Liberation Serif" font-weight="bold">(d)</text>
<text x="544.9" y="380" font-size="18.93" text-anchor="start" fill="#000" font-family="Liberation Serif" font-weight="bold">plasmas</text>
<text x="593.8" y="417.9" font-size="19.24" text-anchor="start" fill="#000" font-family="Liberation Serif" font-weight="bold">Metallic</text>
<text x="599.2" y="440.3" font-size="19.03" text-anchor="start" fill="#000" font-family="Liberation Serif" font-weight="bold">vapor</text>
<text x="467.8" y="486.3" font-size="16.69" text-anchor="start" fill="#4d4d4d" font-family="Liberation Serif" font-weight="bold">Depression zone</text><text x="466.8" y="485.3" font-size="16.69" text-anchor="start" fill="#f2f7f0" font-family="Liberation Serif" font-weight="bold">Depression zone</text>
<text x="485.2" y="537.9" font-size="17.06" text-anchor="start" fill="#4d4d4d" font-family="Liberation Serif" font-weight="bold">Molten Pool</text><text x="484.2" y="536.9" font-size="17.06" text-anchor="start" fill="#f2f7f0" font-family="Liberation Serif" font-weight="bold">Molten Pool</text>
<rect x="716.4" y="507.6" width="312.8" height="137" fill="#808080"/>
<ellipse cx="723.9" cy="477" rx="6.9" ry="7.8" fill="url(#ball)"/><ellipse cx="732.9" cy="477.3" rx="6.9" ry="7.8" fill="url(#ball)"/><ellipse cx="742.7" cy="477.7" rx="6.9" ry="7.8" fill="url(#ball)"/><ellipse cx="754.5" cy="476.3" rx="6.9" ry="7.8" fill="url(#ball)"/><ellipse cx="769.1" cy="479.8" rx="6.9" ry="7.8" fill="url(#ball)"/><ellipse cx="721.8" cy="490.2" rx="6.9" ry="7.8" fill="url(#ball)"/><ellipse cx="734.3" cy="489.5" rx="6.9" ry="7.8" fill="url(#ball)"/><ellipse cx="747.6" cy="490.7" rx="6.9" ry="7.8" fill="url(#ball)"/><ellipse cx="760.8" cy="490.2" rx="6.9" ry="7.8" fill="url(#ball)"/><ellipse cx="779.5" cy="491.2" rx="6.9" ry="7.8" fill="url(#ball)"/><ellipse cx="788.6" cy="492.6" rx="6.9" ry="7.8" fill="url(#ball)"/><ellipse cx="722.5" cy="502.1" rx="6.9" ry="7.8" fill="url(#ball)"/><ellipse cx="734.3" cy="501.4" rx="6.9" ry="7.8" fill="url(#ball)"/><ellipse cx="746.9" cy="502.3" rx="6.9" ry="7.8" fill="url(#ball)"/><ellipse cx="758.7" cy="501.8" rx="6.9" ry="7.8" fill="url(#ball)"/><ellipse cx="769.8" cy="500" rx="6.9" ry="7.8" fill="url(#ball)"/><ellipse cx="779.5" cy="504.8" rx="6.9" ry="7.8" fill="url(#ball)"/><ellipse cx="794.8" cy="502.3" rx="6.9" ry="7.8" fill="url(#ball)"/>
<ellipse cx="963.7" cy="477.9" rx="6.8" ry="8.1" fill="url(#ball)"/><ellipse cx="976.8" cy="476.3" rx="6.8" ry="8.1" fill="url(#ball)"/><ellipse cx="989.4" cy="475.9" rx="6.8" ry="8.1" fill="url(#ball)"/><ellipse cx="1005" cy="475" rx="6.8" ry="8.1" fill="url(#ball)"/><ellipse cx="1015.7" cy="476.9" rx="6.8" ry="8.1" fill="url(#ball)"/><ellipse cx="1024.5" cy="479.5" rx="6.8" ry="8.1" fill="url(#ball)"/><ellipse cx="940.8" cy="488.6" rx="6.8" ry="8.1" fill="url(#ball)"/><ellipse cx="954.4" cy="490" rx="6.8" ry="8.1" fill="url(#ball)"/><ellipse cx="971.9" cy="490" rx="6.8" ry="8.1" fill="url(#ball)"/><ellipse cx="985.6" cy="490" rx="6.8" ry="8.1" fill="url(#ball)"/><ellipse cx="999.2" cy="487.6" rx="6.8" ry="8.1" fill="url(#ball)"/><ellipse cx="1010.9" cy="490" rx="6.8" ry="8.1" fill="url(#ball)"/><ellipse cx="1022.6" cy="491.5" rx="6.8" ry="8.1" fill="url(#ball)"/><ellipse cx="947.6" cy="502.2" rx="6.8" ry="8.1" fill="url(#ball)"/><ellipse cx="960.8" cy="500.9" rx="6.8" ry="8.1" fill="url(#ball)"/><ellipse cx="970.9" cy="504.2" rx="6.8" ry="8.1" fill="url(#ball)"/><ellipse cx="984.2" cy="502.2" rx="6.8" ry="8.1" fill="url(#ball)"/><ellipse cx="997.2" cy="501.7" rx="6.8" ry="8.1" fill="url(#ball)"/><ellipse cx="1010.5" cy="502.8" rx="6.8" ry="8.1" fill="url(#ball)"/><ellipse cx="1023.1" cy="503.6" rx="6.8" ry="8.1" fill="url(#ball)"/>
<path d="M812,457 C805,466 797.5,478 796.2,490 C795.6,497 796.5,503 797.6,507.7 C803,514 811,520 818,527.6 C827,540 833,551 838.5,562.6 C845,578 849,590 853.1,603.5 C857,616 861,627 864.7,635.6 C866.5,640 868,642.6 870,642.6 C872.5,642.6 874.5,637 876.4,629.8 C878.6,621 880.5,612 882.3,603.5 C885.5,588 890,572 896.9,556.8 C903,544 911,534 920.2,524.7 C927,517 933,511 936.3,504.2 C937.5,498 936.5,492 934.8,486.7 C931.5,478 927,470 920.2,463.4 L912,450 Z" fill="#c7940a"/>
<ellipse cx="864.7" cy="479.8" rx="49.6" ry="33.6" fill="#ffd966"/>
<path d="M838,455 C842,470 847,485 850.1,498.4 C851.5,512 851,525 851.6,536.4 C853,550 855.5,560 858.9,568.5 C861,574 864,576.8 867.7,576.8 C872,576.8 875.5,572 877.9,565.5 C880.5,556 882,547 882.3,536.4 C882.6,522 882,510 882.3,498.4 C884,484 889,470 894.5,455 Z" fill="#fff"/>
<linearGradient id="cg3" gradientUnits="userSpaceOnUse" x1="795.6" x2="934.2" y1="0" y2="0"><stop offset="0" stop-color="#f1f6f4"/><stop offset="0.42" stop-color="#ecf3ef"/><stop offset="0.62" stop-color="#e6efe3"/><stop offset="1" stop-color="#e2ecd9"/></linearGradient><g fill="url(#cg3)" stroke="#5f8fb8" stroke-width="1"><circle cx="863.4" cy="358.6" r="21"/><circle cx="832.3" cy="370.6" r="18.9"/><circle cx="814.5" cy="390.7" r="17.8"/><circle cx="812.3" cy="412.9" r="16.7"/><circle cx="815.6" cy="435.2" r="15.6"/><circle cx="832.3" cy="449.5" r="14.5"/><circle cx="854.5" cy="454.6" r="12.2"/><circle cx="876.8" cy="453.6" r="11.1"/><circle cx="896.8" cy="446" r="14.5"/><circle cx="914.4" cy="428.5" r="15.6"/><circle cx="918.6" cy="404" r="15.6"/><circle cx="915.4" cy="379.5" r="15.6"/><circle cx="894.6" cy="365.1" r="17.8"/></g><g fill="url(#cg3)"><polygon points="863.3,355.1 830.1,367.9 811.3,389.4 808.8,413 812.4,436.7 830,452.2 853.7,458 877.8,457 899.2,448.6 917.7,429.6 922.1,403.5 918.4,377.6 896.5,362.2"/><ellipse cx="864" cy="405" rx="50" ry="45"/></g>
<path d="M822,468 C834,452 850,446.5 864.7,446.2 C880,446.5 896,452 908,468" fill="none" stroke="#efe9b8" stroke-width="2" opacity="0.4"/>
<path d="M845.6,325 L875.8,325 L873.6,358.6 L846.7,358.6 Z" fill="url(#ftop)"/><clipPath id="clf"><circle cx="863.4" cy="358.6" r="21"/><rect x="822.4" y="358.6" width="82" height="92.4"/></clipPath><g clip-path="url(#clf)"><path d="M846,336.6 L875,336.6 L867.6,449 L849.8,449 Z" fill="url(#cg3)"/><path d="M846,336.6 L875,336.6 L867.6,449 L849.8,449 Z" fill="url(#inf)"/><path d="M853.8,336.6 L867.8,336.6 L863.1,449 L854.6,449 Z" fill="url(#infb)"/></g><path d="M845.3,347.9 A21,21 0 0 1 875.4,341.4" fill="none" stroke="#5f8fb8" stroke-width="1" opacity="0.85"/>
<circle cx="833.4" cy="371.9" r="5.3" fill="#2f6aa0"/><path d="M829.1,371.9 h8.6 M833.4,367.6 v8.6" stroke="#fff" stroke-width="1.3"/><circle cx="850.9" cy="365.6" r="5.3" fill="#2f6aa0"/><path d="M846.6,365.6 h8.6 M850.9,361.3 v8.6" stroke="#fff" stroke-width="1.3"/><circle cx="836.1" cy="392" r="5.3" fill="#2f6aa0"/><path d="M831.8,392 h8.6 M836.1,387.7 v8.6" stroke="#fff" stroke-width="1.3"/><circle cx="811.8" cy="402.6" r="5.3" fill="#2f6aa0"/><path d="M807.5,402.6 h8.6 M811.8,398.3 v8.6" stroke="#fff" stroke-width="1.3"/><circle cx="827.1" cy="406.5" r="5.3" fill="#2f6aa0"/><path d="M822.8,406.5 h8.6 M827.1,402.2 v8.6" stroke="#fff" stroke-width="1.3"/><circle cx="816.3" cy="421.1" r="5.3" fill="#2f6aa0"/><path d="M812,421.1 h8.6 M816.3,416.8 v8.6" stroke="#fff" stroke-width="1.3"/><circle cx="834.2" cy="422.1" r="5.3" fill="#2f6aa0"/><path d="M829.9,422.1 h8.6 M834.2,417.8 v8.6" stroke="#fff" stroke-width="1.3"/><circle cx="824.2" cy="434.3" r="5.3" fill="#2f6aa0"/><path d="M819.9,434.3 h8.6 M824.2,430 v8.6" stroke="#fff" stroke-width="1.3"/><circle cx="838.2" cy="448" r="5.3" fill="#2f6aa0"/><path d="M833.9,448 h8.6 M838.2,443.7 v8.6" stroke="#fff" stroke-width="1.3"/>
<circle cx="848.8" cy="382.7" r="5.3" fill="#8db4e2"/><path d="M844.5,382.7 h8.6 M848.8,378.4 v8.6" stroke="#fff" stroke-width="1.3"/><circle cx="855.9" cy="399.7" r="5.3" fill="#8db4e2"/><path d="M851.6,399.7 h8.6 M855.9,395.4 v8.6" stroke="#fff" stroke-width="1.3"/><circle cx="844" cy="403.1" r="5.3" fill="#8db4e2"/><path d="M839.7,403.1 h8.6 M844,398.8 v8.6" stroke="#fff" stroke-width="1.3"/><circle cx="852.7" cy="419.7" r="5.3" fill="#8db4e2"/><path d="M848.4,419.7 h8.6 M852.7,415.4 v8.6" stroke="#fff" stroke-width="1.3"/><circle cx="840.8" cy="431.4" r="5.3" fill="#8db4e2"/><path d="M836.5,431.4 h8.6 M840.8,427.1 v8.6" stroke="#fff" stroke-width="1.3"/><circle cx="855.4" cy="439.6" r="5.3" fill="#8db4e2"/><path d="M851.1,439.6 h8.6 M855.4,435.3 v8.6" stroke="#fff" stroke-width="1.3"/>
<circle cx="871.2" cy="367.4" r="5.3" fill="#f4b183"/><path d="M867.1,367.4 h8.2" stroke="#fff" stroke-width="1.4"/><circle cx="893.2" cy="367.9" r="5.3" fill="#f4b183"/><path d="M889.1,367.9 h8.2" stroke="#fff" stroke-width="1.4"/><circle cx="907.7" cy="380.1" r="5.3" fill="#f4b183"/><path d="M903.6,380.1 h8.2" stroke="#fff" stroke-width="1.4"/><circle cx="871.8" cy="382.7" r="5.3" fill="#f4b183"/><path d="M867.7,382.7 h8.2" stroke="#fff" stroke-width="1.4"/><circle cx="892.9" cy="391.2" r="5.3" fill="#f4b183"/><path d="M888.8,391.2 h8.2" stroke="#fff" stroke-width="1.4"/><circle cx="906.4" cy="397.3" r="5.3" fill="#f4b183"/><path d="M902.3,397.3 h8.2" stroke="#fff" stroke-width="1.4"/><circle cx="869.9" cy="401.8" r="5.3" fill="#f4b183"/><path d="M865.8,401.8 h8.2" stroke="#fff" stroke-width="1.4"/><circle cx="884.5" cy="401.2" r="5.3" fill="#f4b183"/><path d="M880.4,401.2 h8.2" stroke="#fff" stroke-width="1.4"/><circle cx="896.9" cy="407.9" r="5.3" fill="#f4b183"/><path d="M892.8,407.9 h8.2" stroke="#fff" stroke-width="1.4"/><circle cx="908.8" cy="411" r="5.3" fill="#f4b183"/><path d="M904.7,411 h8.2" stroke="#fff" stroke-width="1.4"/><circle cx="879.2" cy="417.1" r="5.3" fill="#f4b183"/><path d="M875.1,417.1 h8.2" stroke="#fff" stroke-width="1.4"/><circle cx="899.8" cy="422.9" r="5.3" fill="#f4b183"/><path d="M895.7,422.9 h8.2" stroke="#fff" stroke-width="1.4"/><circle cx="910.9" cy="431.4" r="5.3" fill="#f4b183"/><path d="M906.8,431.4 h8.2" stroke="#fff" stroke-width="1.4"/><circle cx="872" cy="430.3" r="5.3" fill="#f4b183"/><path d="M867.9,430.3 h8.2" stroke="#fff" stroke-width="1.4"/><circle cx="885.8" cy="438.3" r="5.3" fill="#f4b183"/><path d="M881.7,438.3 h8.2" stroke="#fff" stroke-width="1.4"/><circle cx="899" cy="438" r="5.3" fill="#f4b183"/><path d="M894.9,438 h8.2" stroke="#fff" stroke-width="1.4"/>
<g fill="none" stroke="#f01414" stroke-width="1.8">
<path d="M854.5,466.3 L848.7,488.2" marker-end="url(#mr)"/>
<path d="M848.7,488.2 L880.8,506.6" marker-end="url(#mr)"/>
<path d="M880.8,506.6 L851,532" marker-end="url(#mr)"/>
<path d="M851,532 L879.9,551" marker-end="url(#mr)"/>
<path d="M879.9,551 L859.5,568.5" marker-end="url(#mr)"/>
<path d="M859.5,568.5 L875,524.7" marker-end="url(#mr)"/>
</g>
<g fill="none" stroke="#3333f5" stroke-width="1.9"><path d="M791.5,454.5 L788,444.5"/><path d="M788.4,445.6 L787.5,443" marker-end="url(#mbb)"/><path d="M790,471 L785.8,475.2"/><path d="M783.4,472.8 L788,477.4"/></g>
<ellipse cx="793.4" cy="463" rx="6.9" ry="9.6" fill="#3333f5"/>
<ellipse cx="780.9" cy="481.6" rx="6.6" ry="9.3" fill="none" stroke="#3333f5" stroke-width="1.7" stroke-dasharray="3.8 2.1"/>
<g fill="none" stroke="#f01414" stroke-width="1.9"><path d="M937.2,451 L938,446"/><path d="M937.9,447.5 L938.3,444.5" marker-end="url(#mrb)"/><path d="M939.5,468.3 L947,471"/><path d="M946.2,473.6 L948,468.6"/></g>
<ellipse cx="936.5" cy="459.6" rx="6.7" ry="9.5" fill="#f01414"/>
<ellipse cx="953" cy="477" rx="6.8" ry="9.6" fill="none" stroke="#f01414" stroke-width="1.7" stroke-dasharray="3.8 2.1"/>
<line x1="874.5" y1="362.4" x2="849" y2="348.4" stroke="#f4b183" stroke-width="2.4"/><path d="M844.4,345.8 L852.6,346 L848.6,352.8 Z" fill="#f4b183"/>
<line x1="826.3" y1="384.6" x2="805.2" y2="368.7" stroke="#3c6f9c" stroke-width="1.9" marker-end="url(#msb)"/>
<line x1="929.6" y1="444.9" x2="913.4" y2="472.6" stroke="#000" stroke-width="2.2" marker-end="url(#mk)"/>
<line x1="826.8" y1="505.7" x2="846.2" y2="492.9" stroke="#f4f8f2" stroke-width="1.3" marker-end="url(#mw)"/>
<line x1="902.7" y1="583" x2="877.4" y2="573.9" stroke="#f4f8f2" stroke-width="1.3" marker-end="url(#mw)"/>
<text x="738.2" y="317.3" font-size="21.84" text-anchor="start" fill="#000" font-family="Liberation Serif" font-weight="bold">(f)</text>
<text x="773.4" y="351.5" font-size="19.34" text-anchor="start" fill="#000" font-family="Liberation Serif" font-weight="bold">plasmas</text>
<text x="936.6" y="417.9" font-size="16.08" text-anchor="start" fill="#777" stroke="#777" stroke-width="3.6" stroke-linejoin="round" filter="url(#glow)" font-family="Liberation Serif" font-weight="bold">Melting zone</text><text x="936.2" y="417.5" font-size="16.08" text-anchor="start" fill="#f4f8f4" font-family="Liberation Serif" font-weight="bold">Melting zone</text>
<text x="926.4" y="437.4" font-size="16.08" text-anchor="start" fill="#777" stroke="#777" stroke-width="3.6" stroke-linejoin="round" filter="url(#glow)" font-family="Liberation Serif" font-weight="bold">under blue laser</text><text x="926" y="437" font-size="16.08" text-anchor="start" fill="#f4f8f4" font-family="Liberation Serif" font-weight="bold">under blue laser</text>
<text x="723.1" y="523" font-size="19.45" text-anchor="start" fill="#4d4d4d" font-family="Liberation Serif" font-weight="bold">Infrared laser</text><text x="722.1" y="522" font-size="19.45" text-anchor="start" fill="#f2f7f0" font-family="Liberation Serif" font-weight="bold">Infrared laser</text>
<text x="892.5" y="598.7" font-size="19.34" text-anchor="start" fill="#4d4d4d" font-family="Liberation Serif" font-weight="bold">keyhole</text><text x="891.5" y="597.7" font-size="19.34" text-anchor="start" fill="#f2f7f0" font-family="Liberation Serif" font-weight="bold">keyhole</text>
<text x="342.7" y="458.9" font-size="16.08" text-anchor="start" fill="#777" stroke="#777" stroke-width="3.6" stroke-linejoin="round" filter="url(#glow)" font-family="Liberation Serif" font-weight="bold">Powders</text><text x="342.3" y="458.5" font-size="16.08" text-anchor="start" fill="#f4f8f4" font-family="Liberation Serif" font-weight="bold">Powders</text>
<line x1="353" y1="460" x2="346.6" y2="467" stroke="#666" stroke-width="1.2" marker-end="url(#mg)"/>
<line x1="385.5" y1="460" x2="393.5" y2="467.4" stroke="#666" stroke-width="1.2" marker-end="url(#mg)"/>
<rect x="361.2" y="7.2" width="346.9" height="642.9" rx="3" ry="3" fill="none" stroke="#1e9bfb" stroke-width="5.6"/>
<rect x="40" y="655.6" width="990.6" height="29.6" fill="#4472c4"/>
<rect x="40" y="686.6" width="990.6" height="29.2" fill="#cfd5ea"/>
<rect x="369.6" y="686.6" width="1.2" height="29.2" fill="#fff"/><rect x="699.8" y="686.6" width="1.2" height="29.2" fill="#fff"/>
<text x="42.5" y="676.3" font-size="22.36" text-anchor="start" fill="#fff" font-family="Liberation Serif" font-weight="bold">(g)</text>
<text x="535.5" y="677.7" font-size="21.9" text-anchor="middle" fill="#fff" font-family="Liberation Serif" font-weight="bold">Total laser absorption rate</text>
<text x="204.6" y="709.6" font-size="22.8" text-anchor="middle" fill="#000" font-family="Liberation Serif" font-weight="bold">&gt;5%</text>
<text x="534.8" y="709.5" font-size="22.6" text-anchor="middle" fill="#000" font-family="Liberation Serif" font-weight="bold">~65%</text>
<text x="865.2" y="709.6" font-size="22.6" text-anchor="middle" fill="#000" font-family="Liberation Serif" font-weight="bold">&gt;&gt;65%</text>
<g>
<path d="M891.5,655.4 c7.4,0 13.3,4.9 13.3,11 0,6.1 -5.9,11 -13.3,11 -1.6,0 -3.1,-0.2 -4.5,-0.6 l-4.6,2.6 1.3,-4.1 c-3.3,-2 -5.5,-5.2 -5.5,-8.9 0,-6.1 5.9,-11 13.3,-11z" fill="#eef2f8"/>
<circle cx="886.6" cy="662.8" r="1.7" fill="#4472c4"/><circle cx="897" cy="662.8" r="1.7" fill="#4472c4"/>
<path d="M904.6,665.2 c6.7,0 12,4.6 12,10.2 0,3.3 -1.8,6.2 -4.7,8.1 l1.2,3.8 -4.3,-2.3 c-1.3,0.4 -2.7,0.6 -4.2,0.6 -6.7,0 -12,-4.6 -12,-10.2 0,-5.6 5.3,-10.2 12,-10.2z" fill="#eef2f8" stroke="#4a76c2" stroke-width="1.4"/>
<circle cx="900.6" cy="672.6" r="1.5" fill="#4472c4"/><circle cx="909" cy="672.6" r="1.5" fill="#4472c4"/>
</g>
<text x="922.8" y="683.8" font-family="Liberation Sans" font-size="28.6" fill="#8a8f98" textLength="122.5" lengthAdjust="spacingAndGlyphs">AMLetters</text>
<text x="921.8" y="682.9" font-family="Liberation Sans" font-size="28.6" fill="#fdfdfd" textLength="122.5" lengthAdjust="spacingAndGlyphs">AMLetters</text>
</svg></body></html>
